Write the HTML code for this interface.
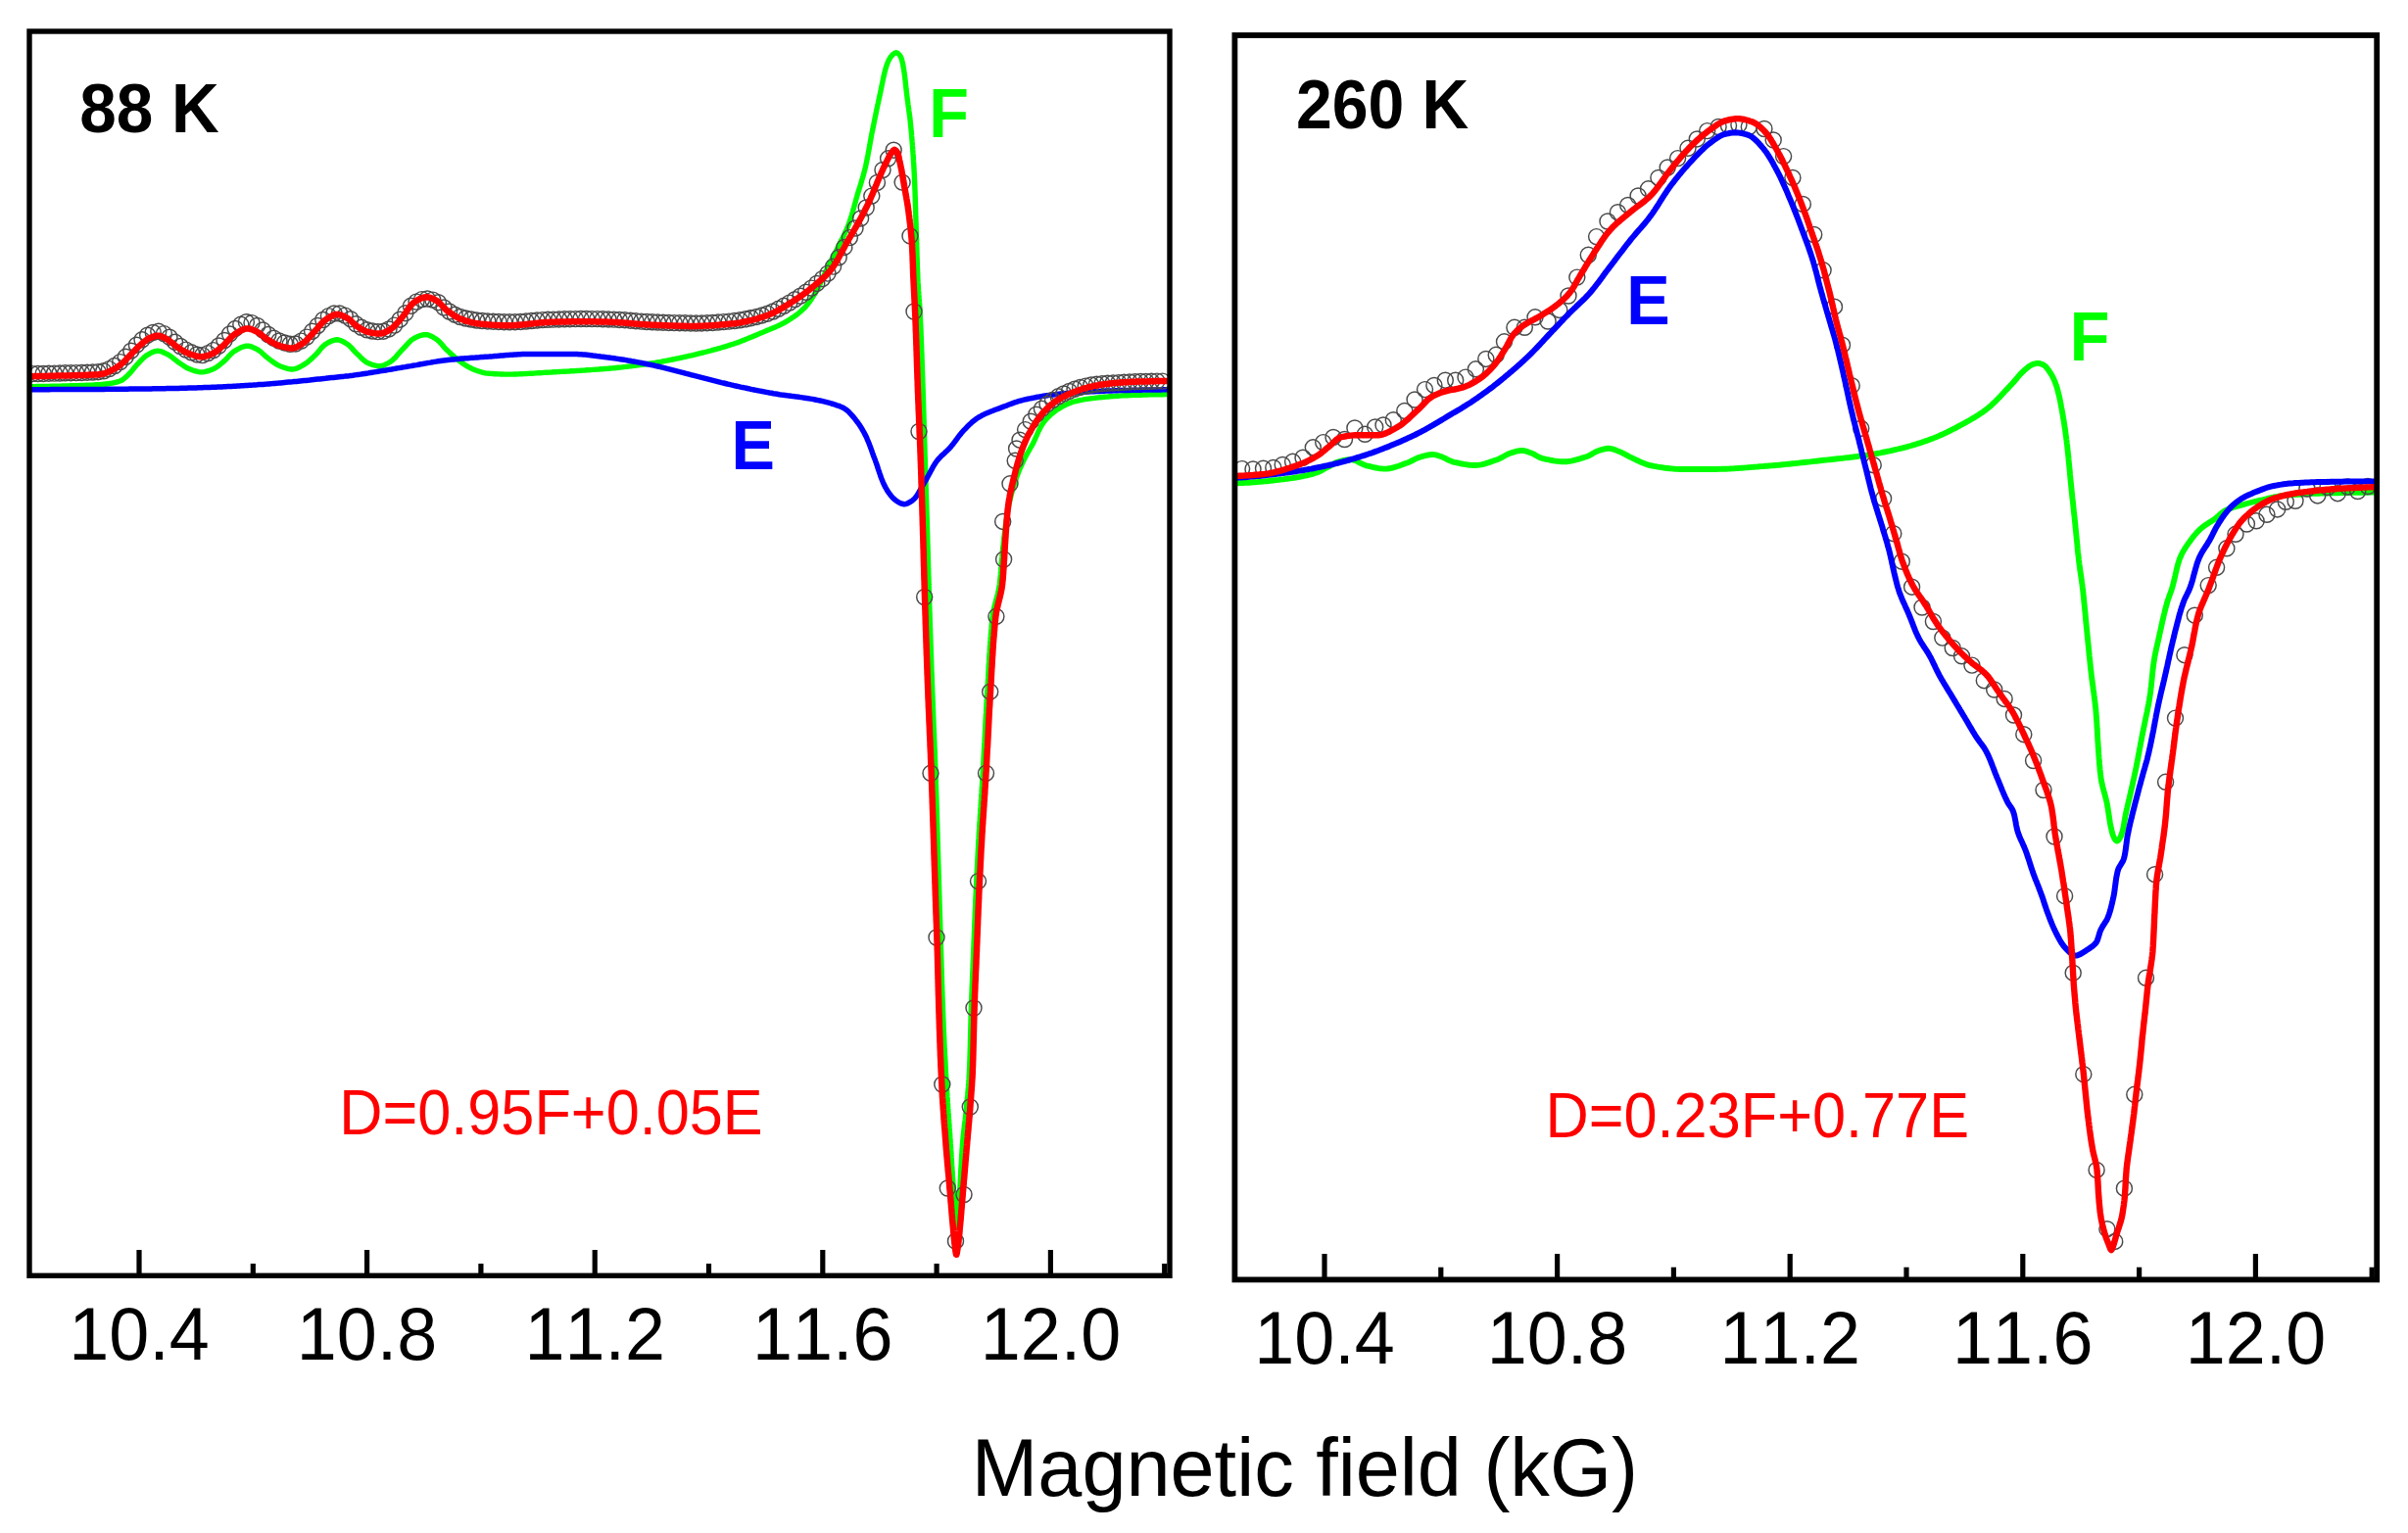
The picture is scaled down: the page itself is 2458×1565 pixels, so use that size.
<!DOCTYPE html>
<html lang="en"><head><meta charset="utf-8"><title>EPR spectra 88 K / 260 K</title>
<style>html,body{margin:0;padding:0;background:#fff;}svg{display:block;}</style></head>
<body>
<svg width="2458" height="1565" viewBox="0 0 2458 1565" font-family="'Liberation Sans', sans-serif" style="font-kerning:none">
<rect width="2458" height="1565" fill="#fff"/>
<clipPath id="cl"><rect x="30.0" y="32.0" width="1164.0" height="1270.3"/></clipPath>
<g clip-path="url(#cl)">
<path d="M28.0 394.6L30.0 394.6L32.0 394.6L34.0 394.6L36.0 394.6L38.0 394.5L40.0 394.5L42.0 394.5L44.0 394.5L46.0 394.4L48.0 394.4L50.0 394.4L52.0 394.3L54.0 394.3L56.0 394.2L58.0 394.2L60.0 394.1L62.0 394.1L64.0 394.0L66.0 394.0L68.0 393.9L70.0 393.9L72.0 393.8L74.0 393.8L76.0 393.7L78.0 393.7L80.0 393.6L82.0 393.5L84.0 393.5L86.0 393.4L88.1 393.3L90.1 393.2L92.1 393.1L94.1 393.1L96.1 392.9L98.1 392.8L100.1 392.7L102.0 392.6L104.0 392.4L106.0 392.2L108.0 392.0L110.0 391.8L112.0 391.5L114.0 391.2L115.9 390.8L117.9 390.4L119.9 389.8L121.8 389.2L123.6 388.5L125.3 387.6L126.9 386.4L128.4 385.0L129.9 383.6L131.4 382.1L132.8 380.7L134.1 379.2L135.4 377.7L136.6 376.1L137.9 374.6L139.2 373.0L140.5 371.6L141.9 370.1L143.3 368.6L144.7 367.1L146.2 365.7L147.7 364.3L149.2 363.1L150.9 362.1L152.6 361.1L154.4 360.2L156.3 359.3L158.3 358.6L160.2 358.3L162.1 358.3L164.0 358.6L165.9 359.3L167.8 360.2L169.7 361.1L171.5 362.0L173.2 363.0L174.8 364.2L176.4 365.4L178.0 366.7L179.6 367.9L181.2 369.1L182.8 370.3L184.5 371.4L186.2 372.6L187.9 373.7L189.6 374.8L191.3 375.8L193.1 376.6L194.9 377.3L196.8 378.0L198.7 378.6L200.7 379.2L202.7 379.6L204.7 379.9L206.6 379.9L208.6 379.6L210.6 379.2L212.6 378.6L214.5 378.0L216.4 377.2L218.1 376.5L219.9 375.6L221.5 374.5L223.2 373.3L224.8 372.0L226.4 370.7L227.9 369.4L229.4 368.1L230.9 366.6L232.3 365.1L233.6 363.6L235.0 362.1L236.5 360.7L237.9 359.4L239.5 358.3L241.2 357.3L243.0 356.3L244.8 355.4L246.7 354.5L248.7 353.8L250.6 353.3L252.5 353.1L254.4 353.3L256.3 353.8L258.2 354.6L260.1 355.5L262.0 356.4L263.7 357.4L265.3 358.5L266.8 359.7L268.3 361.1L269.8 362.5L271.3 363.9L272.9 365.2L274.5 366.4L276.1 367.6L277.7 368.8L279.4 370.0L281.0 371.2L282.7 372.2L284.5 373.1L286.3 373.9L288.1 374.6L290.1 375.3L292.0 375.9L294.0 376.5L296.0 376.8L297.9 377.0L299.8 376.9L301.8 376.4L303.7 375.7L305.6 374.8L307.4 373.8L309.2 372.9L310.8 371.9L312.5 370.8L314.1 369.6L315.6 368.3L317.2 366.9L318.7 365.6L320.1 364.2L321.6 362.8L323.0 361.4L324.4 359.8L325.7 358.2L327.0 356.6L328.3 355.0L329.7 353.6L331.2 352.3L332.7 351.2L334.3 350.2L336.2 349.2L338.1 348.3L340.0 347.6L341.9 347.0L343.9 346.8L345.7 347.0L347.7 347.6L349.6 348.4L351.4 349.4L353.2 350.5L354.8 351.5L356.3 352.7L357.8 354.1L359.2 355.5L360.5 357.1L361.9 358.6L363.3 360.1L364.8 361.5L366.3 362.9L367.7 364.3L369.2 365.8L370.7 367.2L372.2 368.5L373.8 369.7L375.5 370.6L377.3 371.3L379.1 372.0L381.1 372.7L383.1 373.2L385.1 373.6L387.1 373.8L389.0 373.7L390.9 373.2L392.8 372.4L394.7 371.5L396.5 370.5L398.2 369.5L399.8 368.4L401.3 367.1L402.7 365.8L404.1 364.3L405.4 362.7L406.8 361.2L408.1 359.6L409.5 358.1L410.9 356.7L412.3 355.2L413.7 353.7L415.1 352.1L416.5 350.6L417.9 349.1L419.4 347.7L420.9 346.5L422.5 345.5L424.2 344.6L426.0 343.8L427.9 343.0L429.9 342.3L431.9 341.8L433.8 341.6L435.7 341.7L437.7 342.2L439.6 343.0L441.5 343.9L443.3 345.0L445.0 346.0L446.5 347.1L448.0 348.3L449.4 349.8L450.7 351.3L452.1 352.9L453.4 354.4L454.8 356.0L456.2 357.4L457.7 358.7L459.1 360.1L460.6 361.4L462.1 362.8L463.6 364.1L465.2 365.3L466.7 366.6L468.3 367.8L469.9 369.1L471.5 370.3L473.1 371.5L474.8 372.6L476.5 373.6L478.2 374.6L480.0 375.5L481.8 376.4L483.7 377.2L485.5 378.0L487.4 378.6L489.3 379.2L491.2 379.8L493.2 380.3L495.2 380.8L497.1 381.1L499.1 381.2L501.1 381.4L503.1 381.5L505.1 381.7L507.1 381.8L509.1 381.9L511.1 382.0L513.1 382.0L515.1 382.1L517.1 382.1L519.1 382.1L521.1 382.1L523.1 382.1L525.1 382.0L527.1 382.0L529.1 381.9L531.1 381.8L533.1 381.7L535.1 381.6L537.1 381.5L539.1 381.4L541.1 381.3L543.1 381.2L545.1 381.1L547.1 380.9L549.1 380.8L551.1 380.7L553.1 380.6L555.1 380.4L557.1 380.3L559.1 380.2L561.1 380.1L563.1 380.0L565.1 379.8L567.1 379.7L569.1 379.6L571.1 379.5L573.1 379.4L575.1 379.3L577.1 379.2L579.1 379.1L581.1 379.0L583.1 378.8L585.1 378.7L587.1 378.6L589.1 378.5L591.1 378.4L593.1 378.2L595.1 378.1L597.1 378.0L599.1 377.8L601.1 377.7L603.1 377.6L605.1 377.4L607.1 377.3L609.1 377.1L611.1 377.0L613.1 376.8L615.1 376.7L617.1 376.5L619.1 376.4L621.1 376.2L623.1 376.0L625.1 375.9L627.0 375.7L629.0 375.5L631.0 375.3L633.0 375.1L635.0 374.9L637.0 374.6L639.0 374.4L641.0 374.2L643.0 373.9L645.0 373.7L646.9 373.4L648.9 373.2L650.9 372.9L652.9 372.6L654.9 372.3L656.9 372.1L658.9 371.8L660.8 371.5L662.8 371.2L664.8 370.9L666.8 370.6L668.7 370.3L670.7 369.9L672.7 369.6L674.7 369.3L676.6 368.9L678.6 368.5L680.6 368.2L682.5 367.8L684.5 367.4L686.5 367.0L688.4 366.6L690.4 366.2L692.4 365.8L694.3 365.4L696.3 365.0L698.2 364.5L700.2 364.1L702.1 363.7L704.1 363.2L706.0 362.8L708.0 362.3L709.9 361.9L711.9 361.4L713.8 360.9L715.8 360.4L717.7 360.0L719.7 359.5L721.6 359.0L723.5 358.5L725.5 358.0L727.4 357.4L729.4 356.9L731.3 356.4L733.2 355.8L735.2 355.3L737.1 354.7L739.0 354.1L740.9 353.6L742.8 353.0L744.7 352.4L746.6 351.8L748.5 351.2L750.4 350.5L752.3 349.9L754.2 349.2L756.1 348.5L757.9 347.8L759.8 347.1L761.7 346.3L763.5 345.6L765.4 344.8L767.2 344.1L769.1 343.3L770.9 342.5L772.8 341.7L774.6 340.9L776.5 340.1L778.3 339.4L780.1 338.6L782.0 337.8L783.8 337.0L785.7 336.3L787.6 335.5L789.4 334.7L791.3 333.9L793.1 333.1L795.0 332.3L796.8 331.4L798.5 330.5L800.3 329.6L802.0 328.6L803.7 327.6L805.4 326.6L807.1 325.5L808.8 324.3L810.5 323.2L812.2 322.0L813.8 320.8L815.4 319.5L816.9 318.2L818.4 316.9L819.9 315.5L821.3 314.2L822.6 312.8L823.9 311.3L825.1 309.7L826.3 308.1L827.5 306.5L828.6 304.8L829.7 303.1L830.8 301.4L831.9 299.6L832.9 297.9L833.9 296.2L834.9 294.4L835.8 292.7L836.7 290.9L837.5 289.1L838.4 287.3L839.2 285.4L840.0 283.6L840.8 281.8L841.7 279.9L842.5 278.1L843.3 276.3L844.2 274.5L845.1 272.7L846.0 270.9L846.9 269.1L847.8 267.3L848.7 265.5L849.6 263.7L850.5 262.0L851.4 260.2L852.4 258.4L853.3 256.6L854.2 254.8L855.1 253.0L855.9 251.2L856.8 249.4L857.7 247.6L858.6 245.8L859.5 244.0L860.4 242.2L861.3 240.4L862.1 238.6L863.0 236.8L863.8 235.0L864.6 233.2L865.4 231.3L866.1 229.5L866.8 227.6L867.4 225.7L868.1 223.8L868.7 221.9L869.3 220.0L869.8 218.1L870.4 216.2L870.9 214.2L871.5 212.3L872.0 210.4L872.5 208.4L873.1 206.5L873.6 204.6L874.1 202.6L874.7 200.7L875.2 198.8L875.8 196.9L876.4 194.9L877.0 193.0L877.6 191.1L878.2 189.2L878.8 187.3L879.4 185.4L879.9 183.4L880.5 181.5L881.1 179.6L881.6 177.7L882.1 175.7L882.6 173.8L883.1 171.9L883.6 169.9L884.0 168.0L884.4 166.0L884.8 164.1L885.2 162.1L885.6 160.1L886.0 158.2L886.3 156.2L886.7 154.2L887.1 152.3L887.4 150.3L887.8 148.3L888.1 146.3L888.5 144.4L888.8 142.4L889.2 140.4L889.5 138.5L889.9 136.5L890.3 134.5L890.7 132.6L891.1 130.6L891.5 128.6L891.9 126.7L892.3 124.7L892.7 122.7L893.1 120.8L893.5 118.8L893.9 116.9L894.3 114.9L894.7 112.9L895.1 111.0L895.5 109.0L895.9 107.1L896.4 105.1L896.8 103.1L897.2 101.2L897.6 99.2L898.1 97.3L898.5 95.3L898.9 93.4L899.3 91.4L899.7 89.4L900.1 87.4L900.5 85.5L900.9 83.5L901.3 81.5L901.7 79.5L902.2 77.5L902.6 75.6L903.1 73.6L903.6 71.7L904.1 69.8L904.7 67.9L905.3 66.1L906.0 64.2L906.8 62.3L907.8 60.4L908.8 58.7L910.0 57.1L911.3 55.7L913.1 54.4L914.8 53.8L916.7 54.6L918.3 56.1L919.2 57.6L920.0 59.4L920.6 61.3L921.1 63.4L921.6 65.4L921.9 67.4L922.3 69.3L922.6 71.3L922.9 73.3L923.2 75.2L923.5 77.2L923.7 79.2L923.9 81.2L924.2 83.2L924.4 85.2L924.6 87.2L924.8 89.2L925.0 91.2L925.3 93.2L925.5 95.2L925.7 97.2L926.0 99.2L926.2 101.2L926.5 103.1L926.8 105.1L927.0 107.1L927.3 109.1L927.6 111.1L927.8 113.1L928.1 115.1L928.4 117.0L928.6 119.0L928.9 121.0L929.1 123.0L929.3 125.0L929.5 127.0L929.7 129.0L929.9 131.0L930.1 133.0L930.3 134.9L930.5 136.9L930.6 138.9L930.8 140.9L931.0 142.9L931.1 144.9L931.3 146.9L931.4 148.9L931.6 150.9L931.7 152.9L931.9 154.9L932.0 156.9L932.2 158.9L932.3 160.9L932.4 162.9L932.5 164.9L932.7 166.9L932.8 168.9L932.9 170.9L933.0 172.9L933.1 174.9L933.2 176.9L933.3 178.9L933.4 180.9L933.5 182.9L933.6 184.9L933.7 186.9L933.8 188.9L933.8 190.9L933.9 192.9L934.0 194.9L934.1 196.9L934.1 198.9L934.2 200.9L934.3 202.9L934.3 204.9L934.4 206.9L934.4 208.9L934.5 210.9L934.6 212.9L934.6 214.9L934.7 216.9L934.7 218.9L934.8 220.9L934.9 222.9L934.9 224.9L935.0 226.9L935.1 228.9L935.1 230.9L935.2 232.9L935.2 234.9L935.3 236.9L935.4 238.9L935.4 240.9L935.5 242.9L935.6 244.9L935.6 246.9L935.7 248.9L935.7 250.9L935.8 252.9L935.9 254.9L935.9 256.9L936.0 258.9L936.0 260.9L936.1 262.9L936.2 264.9L936.2 266.9L936.3 268.9L936.4 270.9L936.4 272.9L936.5 274.9L936.6 276.9L936.7 278.9L936.8 280.9L936.8 282.9L936.9 284.9L937.0 286.9L937.1 288.9L937.3 290.9L937.4 292.9L937.5 294.9L937.6 296.9L937.8 298.9L937.9 300.9L938.1 302.9L938.2 304.9L938.4 306.9L938.5 308.9L938.7 310.9L938.8 312.9L938.9 314.9L939.0 316.9L939.1 318.9L939.2 320.9L939.3 322.9L939.4 324.9L939.5 326.9L939.6 328.9L939.7 330.9L939.8 332.9L939.9 334.9L940.0 336.9L940.1 338.9L940.1 340.9L940.2 342.9L940.3 344.9L940.4 346.9L940.4 348.9L940.5 350.9L940.6 352.9L940.7 354.9L940.7 356.9L940.8 358.9L940.9 360.9L941.0 362.9L941.0 364.9L941.1 366.9L941.2 368.9L941.2 370.9L941.3 372.9L941.4 374.9L941.4 376.9L941.5 378.9L941.6 380.9L941.6 382.9L941.7 384.9L941.8 386.9L941.8 388.9L941.9 390.9L942.0 392.9L942.0 394.9L942.1 396.9L942.2 398.9L942.2 400.9L942.3 402.9L942.4 404.9L942.4 406.9L942.5 408.9L942.6 410.9L942.6 412.9L942.7 414.9L942.7 416.9L942.8 418.9L942.9 420.9L942.9 422.9L943.0 424.9L943.0 426.9L943.1 428.9L943.2 430.9L943.2 433.0L943.3 435.0L943.3 437.0L943.4 439.0L943.4 441.0L943.5 443.0L943.6 445.0L943.6 447.0L943.7 449.0L943.7 451.0L943.8 453.0L943.9 455.0L943.9 457.0L944.0 459.0L944.0 461.0L944.1 463.0L944.1 465.0L944.2 467.0L944.3 469.0L944.3 471.0L944.4 473.0L944.5 475.0L944.5 477.0L944.6 479.0L944.6 481.0L944.7 483.0L944.8 485.0L944.8 487.0L944.9 489.0L945.0 491.0L945.0 493.0L945.1 495.0L945.1 497.0L945.2 499.0L945.3 501.0L945.3 503.0L945.4 505.0L945.5 507.0L945.5 509.0L945.6 511.0L945.7 513.0L945.7 515.0L945.8 517.0L945.8 519.0L945.9 521.0L946.0 523.0L946.0 525.0L946.1 527.0L946.2 529.0L946.2 531.0L946.3 533.0L946.3 535.0L946.4 537.0L946.5 539.0L946.5 541.0L946.6 543.0L946.7 545.0L946.7 547.0L946.8 549.0L946.8 551.0L946.9 553.0L946.9 555.0L947.0 557.0L947.1 559.0L947.1 561.0L947.2 563.0L947.2 565.0L947.3 567.0L947.3 569.0L947.4 571.0L947.5 573.0L947.5 575.0L947.6 577.0L947.6 579.0L947.7 581.0L947.7 583.0L947.8 585.0L947.8 587.0L947.9 589.0L948.0 591.0L948.0 593.0L948.1 595.0L948.1 597.0L948.2 599.1L948.2 601.1L948.3 603.1L948.4 605.1L948.4 607.1L948.5 609.1L948.5 611.1L948.6 613.1L948.7 615.1L948.7 617.1L948.8 619.1L948.9 621.1L948.9 623.1L949.0 625.1L949.1 627.1L949.1 629.1L949.2 631.1L949.2 633.1L949.3 635.1L949.4 637.1L949.4 639.1L949.5 641.1L949.6 643.1L949.6 645.1L949.7 647.1L949.8 649.1L949.8 651.1L949.9 653.1L950.0 655.1L950.0 657.1L950.1 659.1L950.2 661.1L950.2 663.1L950.3 665.1L950.4 667.1L950.5 669.1L950.5 671.1L950.6 673.1L950.7 675.1L950.7 677.1L950.8 679.1L950.9 681.1L950.9 683.1L951.0 685.1L951.1 687.1L951.2 689.1L951.2 691.1L951.3 693.1L951.4 695.1L951.4 697.1L951.5 699.1L951.6 701.1L951.7 703.1L951.7 705.1L951.8 707.1L951.9 709.1L952.0 711.1L952.0 713.1L952.1 715.1L952.2 717.1L952.3 719.1L952.3 721.1L952.4 723.1L952.5 725.1L952.6 727.1L952.7 729.1L952.7 731.1L952.8 733.1L952.9 735.1L953.0 737.1L953.1 739.1L953.1 741.1L953.2 743.1L953.3 745.1L953.4 747.1L953.5 749.1L953.6 751.1L953.6 753.1L953.7 755.1L953.8 757.1L953.9 759.1L953.9 761.1L954.0 763.1L954.1 765.1L954.2 767.1L954.3 769.1L954.3 771.1L954.4 773.1L954.5 775.1L954.6 777.1L954.6 779.1L954.7 781.1L954.8 783.1L954.9 785.1L954.9 787.1L955.0 789.1L955.1 791.1L955.1 793.1L955.2 795.1L955.3 797.1L955.3 799.1L955.4 801.1L955.5 803.1L955.5 805.1L955.6 807.1L955.7 809.1L955.7 811.1L955.8 813.1L955.9 815.1L955.9 817.1L956.0 819.1L956.0 821.1L956.1 823.1L956.2 825.1L956.2 827.1L956.3 829.1L956.4 831.1L956.4 833.1L956.5 835.1L956.5 837.2L956.6 839.2L956.7 841.2L956.7 843.2L956.8 845.2L956.8 847.2L956.9 849.2L957.0 851.2L957.0 853.2L957.1 855.2L957.1 857.2L957.2 859.2L957.3 861.2L957.3 863.2L957.4 865.2L957.4 867.2L957.5 869.2L957.6 871.2L957.6 873.2L957.7 875.2L957.7 877.2L957.8 879.2L957.8 881.2L957.9 883.2L958.0 885.2L958.0 887.2L958.1 889.2L958.1 891.2L958.2 893.2L958.3 895.2L958.3 897.2L958.4 899.2L958.4 901.2L958.5 903.2L958.6 905.2L958.6 907.2L958.7 909.2L958.7 911.2L958.8 913.2L958.9 915.2L958.9 917.2L959.0 919.2L959.0 921.2L959.1 923.2L959.2 925.2L959.2 927.2L959.3 929.2L959.4 931.2L959.4 933.2L959.5 935.2L959.5 937.2L959.6 939.2L959.7 941.2L959.7 943.2L959.8 945.2L959.8 947.2L959.9 949.2L960.0 951.2L960.0 953.2L960.1 955.2L960.1 957.2L960.2 959.2L960.3 961.2L960.3 963.2L960.4 965.2L960.4 967.2L960.5 969.2L960.6 971.2L960.6 973.2L960.7 975.2L960.7 977.2L960.8 979.2L960.9 981.2L960.9 983.2L961.0 985.2L961.0 987.2L961.1 989.2L961.2 991.2L961.2 993.2L961.3 995.2L961.4 997.2L961.4 999.2L961.5 1001.3L961.5 1003.3L961.6 1005.3L961.7 1007.3L961.7 1009.3L961.8 1011.3L961.9 1013.3L961.9 1015.3L962.0 1017.3L962.1 1019.3L962.1 1021.3L962.2 1023.3L962.3 1025.3L962.4 1027.3L962.4 1029.3L962.5 1031.3L962.6 1033.3L962.7 1035.3L962.7 1037.3L962.8 1039.3L962.9 1041.3L963.0 1043.3L963.1 1045.3L963.1 1047.3L963.2 1049.3L963.3 1051.3L963.4 1053.3L963.5 1055.3L963.6 1057.3L963.7 1059.3L963.8 1061.3L963.8 1063.3L963.9 1065.3L964.0 1067.3L964.1 1069.3L964.2 1071.3L964.3 1073.3L964.4 1075.3L964.5 1077.3L964.7 1079.3L964.8 1081.3L964.9 1083.3L965.0 1085.3L965.1 1087.3L965.2 1089.3L965.3 1091.3L965.4 1093.3L965.5 1095.3L965.6 1097.3L965.7 1099.3L965.9 1101.3L966.0 1103.3L966.1 1105.3L966.2 1107.3L966.3 1109.2L966.4 1111.2L966.6 1113.2L966.7 1115.2L966.8 1117.2L966.9 1119.2L967.1 1121.2L967.2 1123.2L967.3 1125.2L967.5 1127.2L967.6 1129.2L967.7 1131.2L967.9 1133.2L968.0 1135.2L968.2 1137.2L968.3 1139.2L968.4 1141.2L968.6 1143.2L968.7 1145.2L968.9 1147.2L969.0 1149.2L969.1 1151.2L969.3 1153.2L969.4 1155.2L969.6 1157.2L969.7 1159.2L969.8 1161.2L970.0 1163.2L970.1 1165.2L970.2 1167.2L970.4 1169.2L970.5 1171.2L970.6 1173.2L970.8 1175.2L970.9 1177.2L971.0 1179.2L971.1 1181.2L971.3 1183.2L971.4 1185.2L971.5 1187.2L971.6 1189.2L971.8 1191.2L971.9 1193.2L972.0 1195.2L972.1 1197.1L972.3 1199.1L972.4 1201.1L972.5 1203.1L972.7 1205.1L972.8 1207.1L972.9 1209.1L973.1 1211.1L973.2 1213.1L973.3 1215.1L973.5 1217.1L973.6 1219.1L973.7 1221.1L973.9 1223.1L974.0 1225.1L974.1 1227.1L974.3 1229.1L974.4 1231.1L974.5 1233.1L974.7 1235.1L974.9 1237.1L975.0 1239.1L975.2 1241.1L975.4 1243.1L975.6 1245.1L975.9 1247.5L976.2 1250.0L976.5 1251.7L976.9 1251.7L977.2 1250.0L977.5 1247.5L977.8 1245.1L978.0 1243.1L978.2 1241.1L978.3 1239.1L978.5 1237.1L978.6 1235.1L978.7 1233.1L978.8 1231.1L979.0 1229.1L979.1 1227.1L979.2 1225.1L979.3 1223.1L979.4 1221.1L979.5 1219.1L979.6 1217.1L979.7 1215.1L979.9 1213.1L980.0 1211.1L980.1 1209.1L980.2 1207.1L980.3 1205.1L980.4 1203.1L980.5 1201.1L980.6 1199.1L980.7 1197.1L980.8 1195.1L980.9 1193.1L981.0 1191.1L981.2 1189.1L981.3 1187.1L981.4 1185.1L981.5 1183.1L981.6 1181.1L981.7 1179.1L981.9 1177.1L982.0 1175.1L982.1 1173.1L982.3 1171.1L982.4 1169.1L982.6 1167.1L982.7 1165.2L982.9 1163.2L983.1 1161.2L983.3 1159.2L983.5 1157.2L983.8 1155.2L984.0 1153.2L984.2 1151.2L984.4 1149.2L984.7 1147.2L984.9 1145.3L985.2 1143.3L985.4 1141.3L985.6 1139.3L985.8 1137.3L986.1 1135.3L986.3 1133.3L986.5 1131.3L986.6 1129.3L986.8 1127.3L987.0 1125.3L987.2 1123.3L987.4 1121.4L987.6 1119.4L987.8 1117.4L987.9 1115.4L988.1 1113.4L988.3 1111.4L988.5 1109.4L988.6 1107.4L988.8 1105.4L988.9 1103.4L989.1 1101.4L989.2 1099.4L989.3 1097.4L989.4 1095.4L989.5 1093.4L989.6 1091.4L989.7 1089.4L989.8 1087.4L989.8 1085.4L989.9 1083.4L990.0 1081.4L990.0 1079.4L990.1 1077.4L990.2 1075.4L990.2 1073.4L990.3 1071.4L990.3 1069.4L990.4 1067.4L990.4 1065.4L990.5 1063.4L990.5 1061.4L990.6 1059.4L990.6 1057.4L990.7 1055.4L990.7 1053.4L990.8 1051.4L990.8 1049.4L990.9 1047.4L990.9 1045.4L991.0 1043.4L991.0 1041.4L991.1 1039.4L991.1 1037.4L991.2 1035.4L991.3 1033.4L991.3 1031.4L991.4 1029.4L991.5 1027.4L991.5 1025.4L991.6 1023.4L991.7 1021.4L991.8 1019.4L991.8 1017.4L991.9 1015.4L992.0 1013.4L992.1 1011.4L992.1 1009.4L992.2 1007.4L992.3 1005.4L992.4 1003.4L992.5 1001.4L992.6 999.4L992.6 997.4L992.7 995.4L992.8 993.4L992.9 991.4L993.0 989.4L993.1 987.4L993.1 985.4L993.2 983.4L993.3 981.4L993.4 979.4L993.5 977.4L993.6 975.4L993.6 973.4L993.7 971.4L993.8 969.4L993.9 967.4L994.0 965.3L994.0 963.3L994.1 961.3L994.2 959.3L994.3 957.3L994.4 955.3L994.4 953.3L994.5 951.3L994.6 949.3L994.7 947.3L994.8 945.3L994.8 943.3L994.9 941.3L995.0 939.3L995.1 937.3L995.2 935.3L995.2 933.3L995.3 931.3L995.4 929.3L995.5 927.3L995.6 925.3L995.7 923.3L995.7 921.3L995.8 919.3L995.9 917.3L996.0 915.3L996.1 913.3L996.2 911.3L996.3 909.3L996.4 907.3L996.5 905.3L996.6 903.3L996.7 901.3L996.8 899.3L996.9 897.3L997.0 895.3L997.1 893.3L997.2 891.3L997.3 889.3L997.4 887.3L997.5 885.3L997.6 883.3L997.7 881.3L997.8 879.3L997.9 877.3L998.0 875.3L998.1 873.3L998.2 871.3L998.3 869.3L998.4 867.3L998.5 865.3L998.6 863.3L998.7 861.4L998.8 859.4L998.9 857.4L999.1 855.4L999.2 853.4L999.3 851.4L999.4 849.4L999.5 847.4L999.7 845.4L999.8 843.4L999.9 841.4L1000.0 839.4L1000.2 837.4L1000.3 835.4L1000.4 833.4L1000.5 831.4L1000.7 829.4L1000.8 827.4L1000.9 825.4L1001.1 823.4L1001.2 821.4L1001.3 819.4L1001.4 817.4L1001.6 815.4L1001.7 813.4L1001.8 811.4L1002.0 809.4L1002.1 807.4L1002.2 805.4L1002.3 803.4L1002.5 801.4L1002.6 799.4L1002.7 797.4L1002.8 795.4L1003.0 793.4L1003.1 791.4L1003.2 789.4L1003.3 787.4L1003.4 785.4L1003.5 783.4L1003.7 781.4L1003.8 779.4L1003.9 777.4L1004.0 775.4L1004.1 773.4L1004.2 771.4L1004.3 769.4L1004.4 767.4L1004.5 765.4L1004.6 763.4L1004.7 761.4L1004.8 759.4L1005.0 757.4L1005.1 755.4L1005.2 753.4L1005.3 751.4L1005.4 749.4L1005.5 747.4L1005.6 745.4L1005.7 743.4L1005.8 741.4L1005.9 739.4L1006.0 737.4L1006.1 735.4L1006.2 733.4L1006.3 731.4L1006.4 729.4L1006.6 727.4L1006.7 725.4L1006.8 723.4L1006.9 721.4L1007.0 719.4L1007.1 717.4L1007.2 715.4L1007.4 713.4L1007.5 711.5L1007.6 709.5L1007.7 707.5L1007.8 705.5L1008.0 703.5L1008.1 701.5L1008.2 699.5L1008.3 697.5L1008.4 695.5L1008.5 693.4L1008.7 691.4L1008.8 689.4L1008.9 687.4L1009.0 685.4L1009.1 683.4L1009.2 681.4L1009.3 679.4L1009.4 677.4L1009.6 675.4L1009.7 673.4L1009.8 671.4L1009.9 669.4L1010.0 667.4L1010.2 665.4L1010.3 663.4L1010.4 661.4L1010.5 659.4L1010.7 657.4L1010.8 655.4L1011.0 653.4L1011.1 651.4L1011.3 649.4L1011.4 647.4L1011.6 645.4L1011.8 643.4L1012.0 641.4L1012.1 639.5L1012.3 637.5L1012.5 635.5L1012.7 633.5L1013.0 631.5L1013.2 629.6L1013.4 627.6L1013.7 625.6L1014.1 623.7L1014.5 621.7L1014.9 619.7L1015.4 617.8L1015.9 615.8L1016.4 613.9L1016.9 612.0L1017.5 610.0L1018.0 608.1L1018.5 606.1L1018.9 604.2L1019.4 602.2L1019.7 600.2L1020.1 598.3L1020.4 596.3L1020.6 594.3L1020.8 592.3L1021.0 590.3L1021.2 588.4L1021.4 586.4L1021.5 584.4L1021.7 582.4L1021.8 580.4L1022.0 578.4L1022.1 576.4L1022.3 574.4L1022.5 572.4L1022.7 570.4L1022.9 568.4L1023.0 566.4L1023.2 564.4L1023.4 562.4L1023.6 560.4L1023.9 558.4L1024.1 556.4L1024.3 554.4L1024.5 552.4L1024.7 550.5L1025.0 548.5L1025.2 546.5L1025.5 544.5L1025.7 542.5L1026.0 540.5L1026.2 538.5L1026.5 536.5L1026.8 534.5L1027.0 532.6L1027.3 530.6L1027.6 528.6L1027.9 526.6L1028.2 524.6L1028.6 522.7L1028.9 520.7L1029.3 518.7L1029.6 516.8L1030.0 514.8L1030.4 512.9L1030.9 510.9L1031.3 509.0L1031.8 507.0L1032.3 505.1L1032.8 503.1L1033.4 501.2L1033.9 499.2L1034.5 497.3L1035.1 495.4L1035.7 493.5L1036.3 491.6L1036.9 489.7L1037.5 487.8L1038.2 485.9L1038.9 484.0L1039.6 482.2L1040.3 480.3L1041.1 478.5L1041.9 476.6L1042.7 474.8L1043.6 473.0L1044.4 471.2L1045.3 469.4L1046.2 467.6L1047.1 465.8L1048.0 464.0L1049.0 462.3L1050.0 460.5L1051.0 458.8L1052.0 457.0L1053.0 455.3L1054.0 453.6L1054.9 451.8L1055.8 449.9L1056.6 448.1L1057.4 446.2L1058.3 444.3L1059.1 442.5L1059.9 440.6L1060.8 438.8L1061.7 437.0L1062.6 435.3L1063.6 433.6L1064.7 432.0L1065.8 430.5L1067.1 429.0L1068.4 427.5L1069.8 426.0L1071.3 424.5L1072.8 423.1L1074.4 421.8L1076.0 420.5L1077.6 419.3L1079.2 418.1L1080.9 417.1L1082.5 416.1L1084.3 415.1L1086.0 414.2L1087.9 413.3L1089.7 412.4L1091.6 411.6L1093.5 410.9L1095.4 410.3L1097.3 409.7L1099.2 409.3L1101.2 408.8L1103.1 408.4L1105.1 408.1L1107.1 407.7L1109.1 407.4L1111.1 407.1L1113.1 406.8L1115.0 406.6L1117.0 406.4L1119.0 406.1L1121.0 405.9L1123.0 405.7L1125.0 405.5L1127.0 405.3L1129.0 405.1L1131.0 405.0L1133.0 404.8L1135.0 404.6L1137.0 404.5L1139.0 404.3L1141.0 404.2L1143.0 404.1L1145.0 403.9L1147.0 403.8L1149.0 403.7L1151.0 403.7L1153.0 403.6L1155.0 403.5L1157.0 403.4L1159.0 403.4L1161.0 403.3L1163.0 403.2L1165.0 403.2L1167.0 403.1L1169.0 403.1L1171.0 403.0L1173.0 402.9L1175.0 402.9L1177.0 402.8L1179.0 402.8L1181.0 402.8L1183.0 402.7L1185.0 402.7L1187.0 402.7L1189.0 402.6L1191.0 402.6L1193.0 402.6L1195.0 402.6L1197.0 402.6" fill="none" stroke="#00ff00" stroke-width="5.4" stroke-linejoin="round" stroke-linecap="butt"/>
<path d="M28.0 397.7L30.0 397.7L32.0 397.7L34.0 397.7L36.0 397.7L38.0 397.7L40.0 397.7L42.0 397.7L44.0 397.7L46.0 397.7L48.0 397.7L50.1 397.7L52.1 397.6L54.1 397.6L56.1 397.6L58.1 397.6L60.1 397.6L62.1 397.6L64.1 397.6L66.1 397.6L68.1 397.6L70.1 397.6L72.1 397.6L74.1 397.5L76.1 397.5L78.1 397.5L80.1 397.5L82.1 397.5L84.1 397.5L86.1 397.5L88.1 397.5L90.1 397.5L92.1 397.4L94.1 397.4L96.2 397.4L98.2 397.4L100.2 397.4L102.2 397.4L104.2 397.4L106.2 397.4L108.2 397.3L110.2 397.3L112.2 397.3L114.2 397.3L116.2 397.3L118.2 397.3L120.2 397.2L122.2 397.2L124.2 397.2L126.2 397.2L128.2 397.2L130.2 397.2L132.2 397.1L134.2 397.1L136.2 397.1L138.2 397.1L140.3 397.0L142.3 397.0L144.3 397.0L146.3 397.0L148.3 396.9L150.3 396.9L152.3 396.9L154.3 396.9L156.3 396.8L158.3 396.8L160.3 396.8L162.3 396.7L164.3 396.7L166.3 396.7L168.3 396.7L170.3 396.6L172.3 396.6L174.3 396.5L176.3 396.5L178.3 396.5L180.3 396.4L182.3 396.4L184.3 396.3L186.4 396.3L188.4 396.2L190.4 396.2L192.4 396.1L194.4 396.1L196.4 396.0L198.4 395.9L200.4 395.9L202.4 395.8L204.4 395.7L206.4 395.7L208.4 395.6L210.4 395.5L212.4 395.5L214.4 395.4L216.4 395.3L218.4 395.3L220.4 395.2L222.4 395.1L224.4 395.0L226.4 394.9L228.4 394.8L230.4 394.7L232.4 394.6L234.4 394.5L236.4 394.4L238.4 394.3L240.4 394.2L242.4 394.1L244.4 394.0L246.4 393.8L248.4 393.7L250.4 393.6L252.4 393.5L254.4 393.3L256.4 393.2L258.4 393.1L260.4 392.9L262.4 392.8L264.4 392.6L266.4 392.5L268.4 392.4L270.4 392.2L272.4 392.1L274.4 391.9L276.4 391.7L278.4 391.6L280.4 391.4L282.4 391.2L284.4 391.1L286.4 390.9L288.4 390.7L290.4 390.5L292.4 390.3L294.4 390.1L296.4 389.9L298.4 389.8L300.4 389.6L302.4 389.4L304.4 389.2L306.4 389.0L308.4 388.8L310.4 388.6L312.4 388.4L314.3 388.2L316.3 388.0L318.3 387.7L320.3 387.5L322.3 387.3L324.3 387.1L326.3 386.9L328.3 386.7L330.3 386.5L332.3 386.3L334.3 386.0L336.3 385.8L338.3 385.6L340.3 385.4L342.3 385.2L344.3 385.0L346.2 384.8L348.2 384.6L350.2 384.4L352.2 384.1L354.2 383.9L356.2 383.7L358.2 383.4L360.2 383.2L362.2 382.9L364.2 382.6L366.1 382.4L368.1 382.1L370.1 381.8L372.1 381.5L374.1 381.2L376.0 380.9L378.0 380.5L380.0 380.2L382.0 379.9L384.0 379.6L385.9 379.3L387.9 378.9L389.9 378.6L391.9 378.3L393.9 378.0L395.8 377.6L397.8 377.3L399.8 377.0L401.8 376.6L403.7 376.3L405.7 375.9L407.7 375.6L409.7 375.3L411.6 374.9L413.6 374.6L415.6 374.2L417.6 373.9L419.5 373.6L421.5 373.2L423.5 372.9L425.5 372.6L427.4 372.2L429.4 371.8L431.4 371.5L433.4 371.1L435.3 370.8L437.3 370.4L439.3 370.1L441.3 369.7L443.3 369.4L445.2 369.1L447.2 368.8L449.2 368.5L451.2 368.2L453.2 367.9L455.1 367.7L457.1 367.5L459.1 367.3L461.1 367.1L463.1 366.9L465.1 366.7L467.1 366.5L469.1 366.3L471.1 366.1L473.1 366.0L475.1 365.8L477.1 365.7L479.1 365.5L481.1 365.3L483.1 365.2L485.1 365.1L487.1 364.9L489.1 364.8L491.1 364.6L493.1 364.5L495.1 364.3L497.1 364.2L499.1 364.1L501.1 363.9L503.1 363.8L505.1 363.6L507.1 363.5L509.1 363.3L511.1 363.1L513.1 363.0L515.1 362.8L517.1 362.6L519.1 362.5L521.1 362.3L523.1 362.2L525.1 362.0L527.1 361.9L529.1 361.8L531.1 361.7L533.1 361.6L535.1 361.5L537.1 361.5L539.1 361.4L541.1 361.4L543.1 361.4L545.1 361.4L547.1 361.4L549.1 361.4L551.1 361.4L553.1 361.4L555.1 361.4L557.1 361.4L559.2 361.4L561.2 361.4L563.2 361.4L565.2 361.4L567.2 361.4L569.2 361.4L571.2 361.4L573.2 361.4L575.2 361.4L577.2 361.4L579.2 361.4L581.2 361.4L583.2 361.4L585.2 361.4L587.2 361.5L589.2 361.5L591.2 361.7L593.2 361.8L595.2 361.9L597.2 362.1L599.2 362.3L601.2 362.5L603.2 362.7L605.2 363.0L607.2 363.2L609.2 363.5L611.2 363.7L613.2 364.0L615.2 364.2L617.1 364.5L619.1 364.8L621.1 365.0L623.1 365.3L625.1 365.6L627.1 365.8L629.1 366.1L631.0 366.4L633.0 366.7L635.0 367.0L637.0 367.3L639.0 367.6L640.9 368.0L642.9 368.3L644.9 368.7L646.9 369.0L648.8 369.4L650.8 369.8L652.8 370.1L654.8 370.5L656.7 370.9L658.7 371.3L660.7 371.7L662.6 372.1L664.6 372.5L666.5 372.9L668.5 373.3L670.5 373.8L672.4 374.2L674.4 374.7L676.3 375.1L678.2 375.6L680.2 376.1L682.1 376.6L684.1 377.1L686.0 377.6L688.0 378.1L689.9 378.6L691.8 379.1L693.8 379.6L695.7 380.1L697.7 380.6L699.6 381.2L701.5 381.7L703.5 382.2L705.4 382.7L707.4 383.1L709.3 383.6L711.3 384.1L713.2 384.6L715.1 385.1L717.1 385.6L719.0 386.1L721.0 386.6L722.9 387.1L724.9 387.6L726.8 388.1L728.7 388.6L730.7 389.1L732.6 389.6L734.6 390.1L736.5 390.6L738.5 391.0L740.4 391.5L742.4 392.0L744.3 392.4L746.3 392.9L748.2 393.3L750.2 393.8L752.1 394.2L754.1 394.6L756.0 395.1L758.0 395.5L760.0 395.9L761.9 396.3L763.9 396.7L765.9 397.2L767.8 397.6L769.8 398.0L771.7 398.4L773.7 398.8L775.7 399.1L777.7 399.5L779.6 399.9L781.6 400.3L783.6 400.6L785.5 401.0L787.5 401.3L789.5 401.7L791.5 402.0L793.4 402.3L795.4 402.7L797.4 403.0L799.4 403.2L801.4 403.5L803.4 403.8L805.3 404.0L807.3 404.3L809.3 404.6L811.3 404.8L813.3 405.1L815.3 405.3L817.3 405.6L819.3 405.9L821.3 406.2L823.2 406.5L825.2 406.8L827.2 407.1L829.2 407.4L831.1 407.8L833.1 408.2L835.1 408.6L837.0 409.0L839.0 409.4L840.9 409.9L842.9 410.4L844.8 410.9L846.8 411.4L848.7 412.0L850.6 412.5L852.5 413.1L854.4 413.8L856.4 414.4L858.3 415.2L860.1 416.0L861.8 416.9L863.4 418.0L865.0 419.2L866.5 420.6L867.9 422.1L869.3 423.6L870.6 425.1L871.9 426.6L873.1 428.2L874.3 429.8L875.6 431.4L876.7 433.0L877.9 434.7L879.0 436.4L880.0 438.1L881.0 439.9L882.0 441.6L882.9 443.4L883.8 445.1L884.7 446.9L885.4 448.8L886.2 450.6L887.0 452.5L887.7 454.4L888.4 456.2L889.1 458.1L889.8 460.0L890.4 461.9L891.1 463.8L891.8 465.7L892.5 467.6L893.3 469.5L893.9 471.4L894.6 473.3L895.3 475.2L895.9 477.1L896.5 479.1L897.2 481.0L897.8 482.9L898.5 484.9L899.1 486.8L899.8 488.6L900.6 490.5L901.3 492.3L902.1 494.1L903.0 495.9L903.9 497.6L904.9 499.3L905.9 501.1L907.1 502.8L908.3 504.5L909.6 506.2L910.9 507.7L912.3 509.1L913.8 510.4L915.3 511.5L917.1 512.6L918.9 513.6L920.9 514.3L922.8 514.7L924.7 514.5L926.6 513.8L928.5 512.8L930.3 511.7L931.8 510.6L933.1 509.4L934.4 508.0L935.6 506.4L936.7 504.8L937.8 503.0L938.8 501.2L939.8 499.3L940.8 497.5L941.9 495.6L942.9 493.8L943.9 492.0L945.0 490.3L946.0 488.6L946.9 486.8L947.9 485.0L948.9 483.2L949.8 481.4L950.8 479.7L951.7 477.9L952.7 476.2L953.8 474.4L954.8 472.8L955.9 471.2L957.1 469.6L958.4 468.1L959.8 466.7L961.2 465.2L962.7 463.9L964.2 462.5L965.7 461.1L967.1 459.7L968.6 458.3L969.9 456.9L971.2 455.3L972.5 453.8L973.7 452.2L974.9 450.6L976.1 449.0L977.3 447.3L978.5 445.7L979.7 444.1L981.0 442.6L982.3 441.0L983.6 439.5L985.0 438.1L986.4 436.7L987.8 435.2L989.2 433.8L990.7 432.4L992.2 431.0L993.8 429.7L995.4 428.5L997.0 427.3L998.6 426.2L1000.3 425.3L1002.0 424.3L1003.7 423.4L1005.5 422.6L1007.4 421.8L1009.2 421.0L1011.1 420.2L1013.0 419.5L1014.9 418.7L1016.8 418.0L1018.7 417.3L1020.6 416.6L1022.5 415.9L1024.4 415.2L1026.2 414.5L1028.1 413.8L1030.0 413.0L1031.9 412.3L1033.8 411.6L1035.7 410.9L1037.6 410.3L1039.5 409.7L1041.4 409.1L1043.3 408.7L1045.2 408.2L1047.2 407.7L1049.1 407.3L1051.1 406.9L1053.1 406.5L1055.0 406.1L1057.0 405.7L1059.0 405.3L1061.0 405.0L1062.9 404.6L1064.9 404.3L1066.9 404.0L1068.9 403.7L1070.9 403.4L1072.9 403.1L1074.9 402.9L1076.9 402.7L1078.9 402.4L1080.8 402.2L1082.8 402.0L1084.8 401.8L1086.8 401.7L1088.8 401.5L1090.8 401.3L1092.8 401.2L1094.8 401.0L1096.8 400.8L1098.8 400.7L1100.8 400.6L1102.8 400.4L1104.8 400.3L1106.8 400.2L1108.8 400.1L1110.8 400.0L1112.8 399.8L1114.8 399.7L1116.8 399.7L1118.8 399.6L1120.8 399.5L1122.8 399.4L1124.9 399.3L1126.9 399.2L1128.9 399.1L1130.9 399.0L1132.9 399.0L1134.9 398.9L1136.9 398.8L1138.9 398.8L1140.9 398.7L1142.9 398.6L1144.9 398.6L1146.9 398.5L1148.9 398.5L1150.9 398.4L1152.9 398.4L1154.9 398.3L1156.9 398.3L1158.9 398.3L1160.9 398.2L1162.9 398.2L1164.9 398.2L1166.9 398.1L1168.9 398.1L1170.9 398.1L1172.9 398.0L1174.9 398.0L1177.0 398.0L1179.0 397.9L1181.0 397.9L1183.0 397.9L1185.0 397.9L1187.0 397.8L1189.0 397.8L1191.0 397.8L1193.0 397.8L1195.0 397.8L1197.0 397.8" fill="none" stroke="#0000ff" stroke-width="5.5" stroke-linejoin="round" stroke-linecap="butt"/>
<g fill="none" stroke="#4a4a4a" stroke-width="1.45"><circle cx="33.0" cy="381.6" r="8.0"/><circle cx="38.6" cy="381.5" r="8.0"/><circle cx="44.2" cy="381.4" r="8.0"/><circle cx="49.8" cy="381.2" r="8.0"/><circle cx="55.4" cy="381.1" r="8.0"/><circle cx="61.0" cy="381.0" r="8.0"/><circle cx="66.6" cy="380.8" r="8.0"/><circle cx="72.2" cy="380.7" r="8.0"/><circle cx="77.8" cy="380.6" r="8.0"/><circle cx="83.4" cy="380.4" r="8.0"/><circle cx="89.0" cy="380.2" r="8.0"/><circle cx="94.6" cy="380.0" r="8.0"/><circle cx="100.2" cy="379.7" r="8.0"/><circle cx="105.8" cy="378.8" r="8.0"/><circle cx="111.4" cy="376.6" r="8.0"/><circle cx="117.0" cy="373.5" r="8.0"/><circle cx="122.6" cy="369.6" r="8.0"/><circle cx="128.2" cy="364.3" r="8.0"/><circle cx="133.8" cy="358.2" r="8.0"/><circle cx="139.4" cy="352.2" r="8.0"/><circle cx="145.0" cy="346.8" r="8.0"/><circle cx="150.6" cy="342.2" r="8.0"/><circle cx="156.2" cy="339.4" r="8.0"/><circle cx="161.8" cy="338.3" r="8.0"/><circle cx="167.4" cy="340.6" r="8.0"/><circle cx="173.0" cy="344.2" r="8.0"/><circle cx="178.6" cy="349.2" r="8.0"/><circle cx="184.2" cy="353.5" r="8.0"/><circle cx="189.8" cy="357.1" r="8.0"/><circle cx="195.4" cy="359.8" r="8.0"/><circle cx="201.0" cy="361.9" r="8.0"/><circle cx="206.6" cy="362.6" r="8.0"/><circle cx="212.2" cy="360.6" r="8.0"/><circle cx="217.8" cy="357.6" r="8.0"/><circle cx="223.4" cy="353.0" r="8.0"/><circle cx="229.0" cy="347.5" r="8.0"/><circle cx="234.6" cy="340.9" r="8.0"/><circle cx="240.2" cy="335.4" r="8.0"/><circle cx="245.8" cy="331.3" r="8.0"/><circle cx="251.4" cy="328.7" r="8.0"/><circle cx="257.0" cy="329.6" r="8.0"/><circle cx="262.6" cy="332.4" r="8.0"/><circle cx="268.2" cy="336.9" r="8.0"/><circle cx="273.8" cy="341.5" r="8.0"/><circle cx="279.4" cy="345.2" r="8.0"/><circle cx="285.0" cy="348.0" r="8.0"/><circle cx="290.6" cy="349.9" r="8.0"/><circle cx="296.2" cy="351.3" r="8.0"/><circle cx="301.8" cy="350.9" r="8.0"/><circle cx="307.4" cy="348.1" r="8.0"/><circle cx="313.0" cy="344.1" r="8.0"/><circle cx="318.6" cy="338.3" r="8.0"/><circle cx="324.2" cy="332.5" r="8.0"/><circle cx="329.8" cy="326.5" r="8.0"/><circle cx="335.4" cy="322.6" r="8.0"/><circle cx="341.0" cy="320.0" r="8.0"/><circle cx="346.6" cy="319.9" r="8.0"/><circle cx="352.2" cy="322.1" r="8.0"/><circle cx="357.8" cy="325.7" r="8.0"/><circle cx="363.4" cy="330.8" r="8.0"/><circle cx="369.0" cy="334.3" r="8.0"/><circle cx="374.6" cy="336.8" r="8.0"/><circle cx="380.2" cy="338.0" r="8.0"/><circle cx="385.8" cy="338.6" r="8.0"/><circle cx="391.4" cy="338.2" r="8.0"/><circle cx="397.0" cy="335.9" r="8.0"/><circle cx="402.6" cy="332.1" r="8.0"/><circle cx="408.2" cy="326.2" r="8.0"/><circle cx="413.8" cy="319.7" r="8.0"/><circle cx="419.4" cy="312.3" r="8.0"/><circle cx="425.0" cy="308.1" r="8.0"/><circle cx="430.6" cy="305.6" r="8.0"/><circle cx="436.2" cy="305.0" r="8.0"/><circle cx="441.8" cy="306.1" r="8.0"/><circle cx="447.4" cy="308.7" r="8.0"/><circle cx="453.0" cy="313.9" r="8.0"/><circle cx="458.6" cy="318.0" r="8.0"/><circle cx="464.2" cy="321.2" r="8.0"/><circle cx="469.8" cy="323.5" r="8.0"/><circle cx="475.4" cy="325.0" r="8.0"/><circle cx="481.0" cy="326.0" r="8.0"/><circle cx="486.6" cy="327.0" r="8.0"/><circle cx="492.2" cy="327.5" r="8.0"/><circle cx="497.8" cy="327.9" r="8.0"/><circle cx="503.4" cy="328.2" r="8.0"/><circle cx="509.0" cy="328.4" r="8.0"/><circle cx="514.6" cy="328.7" r="8.0"/><circle cx="520.2" cy="328.8" r="8.0"/><circle cx="525.8" cy="328.7" r="8.0"/><circle cx="531.4" cy="328.4" r="8.0"/><circle cx="537.0" cy="328.0" r="8.0"/><circle cx="542.6" cy="327.5" r="8.0"/><circle cx="548.2" cy="327.0" r="8.0"/><circle cx="553.8" cy="326.6" r="8.0"/><circle cx="559.4" cy="326.3" r="8.0"/><circle cx="565.0" cy="326.1" r="8.0"/><circle cx="570.6" cy="325.9" r="8.0"/><circle cx="576.2" cy="325.8" r="8.0"/><circle cx="581.8" cy="325.7" r="8.0"/><circle cx="587.4" cy="325.6" r="8.0"/><circle cx="593.0" cy="325.5" r="8.0"/><circle cx="598.6" cy="325.5" r="8.0"/><circle cx="604.2" cy="325.6" r="8.0"/><circle cx="609.8" cy="325.6" r="8.0"/><circle cx="615.4" cy="325.8" r="8.0"/><circle cx="621.0" cy="325.9" r="8.0"/><circle cx="626.6" cy="326.1" r="8.0"/><circle cx="632.2" cy="326.4" r="8.0"/><circle cx="637.8" cy="326.7" r="8.0"/><circle cx="643.4" cy="327.2" r="8.0"/><circle cx="649.0" cy="327.7" r="8.0"/><circle cx="654.6" cy="328.1" r="8.0"/><circle cx="660.2" cy="328.5" r="8.0"/><circle cx="665.8" cy="328.8" r="8.0"/><circle cx="671.4" cy="329.0" r="8.0"/><circle cx="677.0" cy="329.2" r="8.0"/><circle cx="682.6" cy="329.4" r="8.0"/><circle cx="688.2" cy="329.6" r="8.0"/><circle cx="693.8" cy="329.7" r="8.0"/><circle cx="699.4" cy="329.8" r="8.0"/><circle cx="705.0" cy="329.9" r="8.0"/><circle cx="710.6" cy="330.0" r="8.0"/><circle cx="716.2" cy="329.9" r="8.0"/><circle cx="721.8" cy="329.7" r="8.0"/><circle cx="727.4" cy="329.4" r="8.0"/><circle cx="733.0" cy="329.0" r="8.0"/><circle cx="738.6" cy="328.6" r="8.0"/><circle cx="744.2" cy="328.1" r="8.0"/><circle cx="749.8" cy="327.5" r="8.0"/><circle cx="755.4" cy="326.8" r="8.0"/><circle cx="761.0" cy="325.8" r="8.0"/><circle cx="766.6" cy="324.7" r="8.0"/><circle cx="772.2" cy="323.4" r="8.0"/><circle cx="777.8" cy="321.9" r="8.0"/><circle cx="783.4" cy="320.2" r="8.0"/><circle cx="789.0" cy="318.0" r="8.0"/><circle cx="794.6" cy="315.3" r="8.0"/><circle cx="800.2" cy="312.3" r="8.0"/><circle cx="805.8" cy="309.1" r="8.0"/><circle cx="811.4" cy="305.7" r="8.0"/><circle cx="817.0" cy="302.2" r="8.0"/><circle cx="822.6" cy="298.3" r="8.0"/><circle cx="828.2" cy="294.1" r="8.0"/><circle cx="833.8" cy="289.4" r="8.0"/><circle cx="839.4" cy="284.6" r="8.0"/><circle cx="845.0" cy="279.1" r="8.0"/><circle cx="850.6" cy="272.1" r="8.0"/><circle cx="856.2" cy="262.8" r="8.0"/><circle cx="861.8" cy="252.4" r="8.0"/><circle cx="867.4" cy="242.6" r="8.0"/><circle cx="873.0" cy="233.0" r="8.0"/><circle cx="878.6" cy="222.9" r="8.0"/><circle cx="884.2" cy="212.0" r="8.0"/><circle cx="889.8" cy="200.1" r="8.0"/><circle cx="895.4" cy="186.4" r="8.0"/><circle cx="901.0" cy="173.5" r="8.0"/><circle cx="906.6" cy="161.8" r="8.0"/><circle cx="912.2" cy="153.2" r="8.0"/><circle cx="1041.0" cy="449.2" r="8.0"/><circle cx="1046.6" cy="438.6" r="8.0"/><circle cx="1052.2" cy="430.2" r="8.0"/><circle cx="1057.8" cy="423.2" r="8.0"/><circle cx="1063.4" cy="417.3" r="8.0"/><circle cx="1069.0" cy="412.4" r="8.0"/><circle cx="1074.6" cy="408.4" r="8.0"/><circle cx="1080.2" cy="404.8" r="8.0"/><circle cx="1085.8" cy="401.9" r="8.0"/><circle cx="1091.4" cy="399.4" r="8.0"/><circle cx="1097.0" cy="397.2" r="8.0"/><circle cx="1102.6" cy="395.4" r="8.0"/><circle cx="1108.2" cy="394.1" r="8.0"/><circle cx="1113.8" cy="393.0" r="8.0"/><circle cx="1119.4" cy="392.3" r="8.0"/><circle cx="1125.0" cy="391.7" r="8.0"/><circle cx="1130.6" cy="391.2" r="8.0"/><circle cx="1136.2" cy="391.0" r="8.0"/><circle cx="1141.8" cy="390.7" r="8.0"/><circle cx="1147.4" cy="390.3" r="8.0"/><circle cx="1153.0" cy="389.9" r="8.0"/><circle cx="1158.6" cy="389.7" r="8.0"/><circle cx="1164.2" cy="389.5" r="8.0"/><circle cx="1169.8" cy="389.4" r="8.0"/><circle cx="1175.4" cy="389.3" r="8.0"/><circle cx="1181.0" cy="389.1" r="8.0"/><circle cx="1186.6" cy="389.1" r="8.0"/><circle cx="921.1" cy="186.1" r="8.0"/><circle cx="929.0" cy="240.9" r="8.0"/><circle cx="933.0" cy="318.0" r="8.0"/><circle cx="938.0" cy="440.5" r="8.0"/><circle cx="943.7" cy="609.5" r="8.0"/><circle cx="950.0" cy="789.3" r="8.0"/><circle cx="956.0" cy="957.0" r="8.0"/><circle cx="961.8" cy="1107.0" r="8.0"/><circle cx="967.3" cy="1213.0" r="8.0"/><circle cx="975.5" cy="1267.0" r="8.0"/><circle cx="984.0" cy="1219.5" r="8.0"/><circle cx="990.3" cy="1130.0" r="8.0"/><circle cx="994.0" cy="1029.0" r="8.0"/><circle cx="998.5" cy="899.6" r="8.0"/><circle cx="1006.5" cy="789.3" r="8.0"/><circle cx="1010.7" cy="706.2" r="8.0"/><circle cx="1016.9" cy="629.3" r="8.0"/><circle cx="1024.6" cy="571.0" r="8.0"/><circle cx="1023.7" cy="532.4" r="8.0"/><circle cx="1031.0" cy="493.8" r="8.0"/><circle cx="1036.2" cy="470.3" r="8.0"/><circle cx="1037.6" cy="458.0" r="8.0"/></g>
<path d="M28.0 384.3L30.0 384.3L32.0 384.2L34.0 384.2L36.0 384.1L38.0 384.1L40.0 384.1L42.0 384.0L44.0 384.0L46.0 383.9L48.0 383.9L50.0 383.8L52.0 383.8L54.0 383.7L56.0 383.7L58.0 383.6L60.0 383.6L62.0 383.6L64.0 383.5L66.0 383.5L68.0 383.4L70.0 383.4L72.0 383.3L74.0 383.3L76.0 383.2L78.0 383.2L80.0 383.1L82.0 383.1L84.0 383.0L86.0 382.9L88.0 382.9L90.0 382.8L92.0 382.7L94.1 382.6L96.1 382.5L98.1 382.4L100.1 382.3L102.0 382.1L104.0 381.9L105.9 381.4L107.8 380.8L109.7 380.0L111.6 379.1L113.4 378.3L115.2 377.4L116.9 376.5L118.7 375.4L120.3 374.3L122.0 373.1L123.6 371.9L125.1 370.6L126.5 369.3L128.0 367.9L129.3 366.4L130.7 364.9L132.1 363.5L133.5 362.0L134.9 360.6L136.3 359.1L137.7 357.7L139.1 356.2L140.5 354.8L141.9 353.4L143.4 352.1L144.9 350.8L146.4 349.5L148.0 348.2L149.6 346.9L151.3 345.8L153.0 345.0L154.9 344.2L156.8 343.5L158.8 343.0L160.8 342.7L162.7 342.8L164.6 343.4L166.5 344.2L168.4 345.2L170.1 346.1L171.8 347.1L173.4 348.2L175.0 349.5L176.6 350.8L178.1 352.1L179.7 353.4L181.3 354.5L183.0 355.6L184.7 356.7L186.4 357.7L188.2 358.8L190.0 359.7L191.8 360.5L193.6 361.3L195.5 361.9L197.4 362.5L199.4 363.1L201.3 363.6L203.3 364.0L205.3 364.2L207.2 364.1L209.2 363.8L211.2 363.2L213.1 362.5L215.0 361.8L216.8 361.1L218.5 360.1L220.2 359.1L221.8 357.9L223.4 356.6L225.0 355.2L226.5 353.9L228.0 352.6L229.5 351.3L230.9 349.8L232.3 348.3L233.7 346.8L235.1 345.3L236.5 343.8L237.9 342.5L239.5 341.3L241.1 340.3L242.8 339.2L244.7 338.1L246.5 337.1L248.4 336.3L250.3 335.7L252.2 335.4L254.1 335.5L256.0 336.0L258.0 336.7L259.9 337.5L261.7 338.4L263.4 339.3L265.1 340.4L266.7 341.6L268.2 342.9L269.8 344.2L271.4 345.5L273.0 346.6L274.7 347.7L276.5 348.7L278.2 349.7L280.0 350.7L281.8 351.6L283.6 352.4L285.5 353.1L287.4 353.6L289.4 354.1L291.3 354.6L293.4 355.0L295.4 355.3L297.3 355.5L299.2 355.4L301.1 355.0L303.0 354.2L304.8 353.2L306.6 352.1L308.3 350.9L309.9 349.9L311.4 348.7L312.9 347.3L314.3 345.9L315.7 344.4L317.0 342.9L318.4 341.3L319.8 339.8L321.2 338.3L322.5 336.9L323.9 335.3L325.2 333.7L326.5 332.2L327.8 330.6L329.2 329.2L330.6 327.8L332.1 326.6L333.7 325.5L335.4 324.4L337.2 323.3L339.1 322.3L341.0 321.5L342.9 321.0L344.7 320.9L346.6 321.3L348.6 321.9L350.5 322.7L352.4 323.7L354.1 324.6L355.8 325.6L357.3 326.8L358.8 328.2L360.3 329.6L361.8 331.0L363.3 332.3L365.0 333.5L366.7 334.6L368.4 335.6L370.2 336.7L372.0 337.6L373.8 338.4L375.7 338.9L377.6 339.3L379.6 339.7L381.6 340.1L383.6 340.4L385.6 340.5L387.6 340.6L389.5 340.4L391.5 339.8L393.4 339.0L395.3 338.1L397.0 337.1L398.7 336.1L400.2 335.0L401.7 333.7L403.1 332.3L404.5 330.8L405.9 329.3L407.2 327.7L408.6 326.1L409.9 324.6L411.2 323.1L412.5 321.5L413.7 319.8L414.9 318.1L416.0 316.3L417.2 314.6L418.4 313.0L419.7 311.5L421.0 310.1L422.5 308.9L424.0 307.8L425.7 306.7L427.5 305.7L429.4 304.7L431.4 303.9L433.3 303.4L435.2 303.2L437.1 303.4L439.1 303.9L441.0 304.6L442.9 305.5L444.7 306.4L446.3 307.3L447.9 308.5L449.3 309.9L450.7 311.4L452.1 312.9L453.5 314.4L455.0 315.9L456.5 317.1L458.1 318.3L459.8 319.5L461.4 320.7L463.1 321.8L464.8 322.9L466.6 323.9L468.3 324.8L470.1 325.6L472.0 326.2L473.8 326.9L475.7 327.6L477.7 328.2L479.6 328.7L481.6 329.2L483.6 329.6L485.6 330.0L487.5 330.2L489.5 330.5L491.5 330.7L493.4 330.9L495.4 331.1L497.4 331.3L499.4 331.4L501.4 331.6L503.4 331.7L505.4 331.9L507.5 332.0L509.5 332.1L511.5 332.2L513.5 332.2L515.5 332.3L517.5 332.3L519.5 332.3L521.5 332.3L523.5 332.2L525.5 332.1L527.5 332.0L529.5 331.8L531.5 331.6L533.4 331.4L535.4 331.2L537.4 331.0L539.4 330.8L541.4 330.6L543.4 330.4L545.4 330.1L547.4 329.9L549.4 329.7L551.4 329.5L553.4 329.3L555.4 329.2L557.4 329.0L559.4 328.9L561.4 328.8L563.4 328.8L565.4 328.7L567.4 328.7L569.4 328.6L571.4 328.5L573.4 328.5L575.4 328.5L577.4 328.4L579.4 328.4L581.4 328.3L583.4 328.3L585.4 328.3L587.4 328.2L589.4 328.2L591.4 328.2L593.4 328.2L595.4 328.2L597.4 328.2L599.4 328.2L601.4 328.2L603.4 328.3L605.4 328.3L607.4 328.3L609.4 328.4L611.4 328.4L613.4 328.5L615.4 328.5L617.4 328.6L619.4 328.6L621.4 328.7L623.4 328.8L625.4 328.8L627.4 328.9L629.4 329.0L631.4 329.1L633.4 329.2L635.4 329.4L637.4 329.5L639.4 329.7L641.4 329.9L643.4 330.0L645.4 330.2L647.4 330.4L649.4 330.6L651.4 330.7L653.4 330.9L655.4 331.0L657.4 331.2L659.4 331.3L661.4 331.5L663.4 331.6L665.4 331.7L667.4 331.8L669.4 331.8L671.4 331.9L673.4 332.0L675.4 332.1L677.4 332.2L679.4 332.2L681.4 332.3L683.4 332.4L685.4 332.5L687.4 332.5L689.4 332.6L691.4 332.7L693.4 332.7L695.4 332.8L697.4 332.8L699.4 332.8L701.4 332.9L703.4 332.9L705.4 332.9L707.4 332.9L709.4 332.9L711.4 332.9L713.4 332.8L715.4 332.8L717.4 332.7L719.4 332.6L721.4 332.5L723.4 332.4L725.4 332.3L727.4 332.2L729.4 332.0L731.4 331.9L733.4 331.7L735.4 331.5L737.4 331.3L739.4 331.2L741.4 331.0L743.4 330.8L745.4 330.6L747.4 330.4L749.3 330.2L751.3 329.9L753.3 329.7L755.3 329.4L757.3 329.0L759.2 328.6L761.2 328.2L763.2 327.8L765.2 327.3L767.1 326.8L769.1 326.3L771.0 325.8L773.0 325.3L774.9 324.7L776.8 324.1L778.7 323.5L780.5 322.9L782.4 322.3L784.2 321.6L786.0 320.8L787.9 320.0L789.7 319.2L791.5 318.3L793.2 317.3L795.0 316.4L796.8 315.4L798.6 314.4L800.3 313.3L802.0 312.3L803.8 311.2L805.5 310.1L807.2 309.0L808.9 308.0L810.6 306.9L812.2 305.8L813.9 304.7L815.6 303.6L817.2 302.5L818.8 301.3L820.5 300.1L822.1 298.9L823.7 297.7L825.3 296.5L826.8 295.2L828.4 294.0L829.9 292.7L831.5 291.4L833.0 290.1L834.5 288.8L836.1 287.5L837.6 286.2L839.1 284.8L840.6 283.5L842.1 282.1L843.5 280.7L844.9 279.2L846.2 277.8L847.5 276.3L848.7 274.7L849.8 273.2L851.0 271.6L852.0 269.9L853.1 268.2L854.1 266.5L855.1 264.8L856.1 263.0L857.1 261.2L858.0 259.4L859.0 257.6L859.9 255.9L860.9 254.1L861.9 252.3L862.8 250.5L863.8 248.7L864.8 247.0L865.8 245.3L866.8 243.5L867.8 241.8L868.8 240.1L869.9 238.4L870.9 236.6L871.9 234.9L872.9 233.2L873.9 231.4L874.9 229.7L875.9 228.0L876.8 226.2L877.8 224.4L878.7 222.7L879.7 220.9L880.6 219.1L881.5 217.4L882.4 215.6L883.3 213.8L884.2 212.0L885.1 210.2L886.0 208.4L886.8 206.6L887.7 204.8L888.5 203.0L889.3 201.1L890.1 199.3L890.9 197.5L891.7 195.6L892.4 193.7L893.2 191.9L893.9 190.0L894.7 188.2L895.4 186.3L896.2 184.5L897.0 182.6L897.8 180.8L898.6 179.0L899.4 177.1L900.2 175.3L901.0 173.5L901.8 171.6L902.7 169.8L903.5 168.0L904.4 166.2L905.3 164.4L906.2 162.6L907.1 160.8L908.0 159.0L909.0 157.3L910.1 155.7L911.5 153.9L913.0 152.8L914.5 153.7L915.9 155.5L916.6 157.3L917.2 159.2L917.6 161.2L918.0 163.2L918.5 165.2L918.9 167.1L919.3 169.1L919.7 171.1L920.1 173.0L920.5 175.0L920.8 177.0L921.2 178.9L921.5 180.9L921.9 182.9L922.2 184.9L922.6 186.8L922.9 188.8L923.2 190.8L923.6 192.7L923.9 194.7L924.3 196.7L924.6 198.7L925.0 200.6L925.3 202.6L925.7 204.6L926.0 206.6L926.3 208.5L926.7 210.5L926.9 212.5L927.2 214.5L927.5 216.4L927.7 218.4L928.0 220.4L928.2 222.4L928.5 224.4L928.7 226.4L929.0 228.4L929.2 230.4L929.4 232.4L929.6 234.3L929.8 236.3L930.0 238.3L930.2 240.3L930.4 242.3L930.6 244.3L930.7 246.3L930.9 248.3L931.0 250.3L931.1 252.3L931.2 254.3L931.3 256.3L931.4 258.3L931.5 260.3L931.6 262.3L931.6 264.3L931.7 266.3L931.8 268.3L931.9 270.3L931.9 272.3L932.0 274.3L932.1 276.3L932.1 278.3L932.2 280.3L932.3 282.3L932.4 284.3L932.5 286.3L932.6 288.3L932.7 290.3L932.8 292.3L932.9 294.3L933.0 296.3L933.1 298.3L933.2 300.3L933.3 302.3L933.4 304.3L933.5 306.3L933.6 308.3L933.7 310.3L933.8 312.3L933.9 314.3L934.0 316.3L934.1 318.3L934.2 320.3L934.3 322.3L934.4 324.3L934.5 326.3L934.5 328.3L934.6 330.3L934.7 332.3L934.8 334.3L934.8 336.3L934.9 338.3L935.0 340.3L935.1 342.3L935.1 344.3L935.2 346.3L935.3 348.3L935.3 350.3L935.4 352.3L935.5 354.3L935.5 356.3L935.6 358.3L935.7 360.3L935.7 362.3L935.8 364.3L935.9 366.3L935.9 368.3L936.0 370.3L936.0 372.3L936.1 374.3L936.2 376.3L936.2 378.3L936.3 380.3L936.4 382.3L936.4 384.3L936.5 386.3L936.6 388.3L936.7 390.3L936.7 392.3L936.8 394.3L936.9 396.3L936.9 398.3L937.0 400.3L937.1 402.3L937.2 404.3L937.2 406.3L937.3 408.3L937.4 410.3L937.5 412.3L937.6 414.3L937.6 416.3L937.7 418.3L937.8 420.3L937.9 422.3L938.0 424.3L938.1 426.3L938.1 428.3L938.2 430.3L938.3 432.3L938.4 434.3L938.5 436.3L938.6 438.3L938.6 440.3L938.7 442.3L938.8 444.3L938.9 446.3L939.0 448.3L939.1 450.3L939.1 452.3L939.2 454.3L939.3 456.3L939.4 458.3L939.4 460.3L939.5 462.3L939.6 464.3L939.7 466.3L939.7 468.3L939.8 470.3L939.9 472.3L940.0 474.3L940.0 476.3L940.1 478.3L940.2 480.3L940.2 482.3L940.3 484.3L940.4 486.3L940.4 488.3L940.5 490.3L940.5 492.3L940.6 494.3L940.7 496.3L940.7 498.3L940.8 500.3L940.9 502.3L940.9 504.3L941.0 506.3L941.1 508.3L941.1 510.3L941.2 512.3L941.2 514.3L941.3 516.3L941.4 518.3L941.4 520.3L941.5 522.3L941.5 524.3L941.6 526.3L941.7 528.3L941.7 530.3L941.8 532.3L941.8 534.3L941.9 536.3L942.0 538.3L942.0 540.3L942.1 542.3L942.1 544.3L942.2 546.3L942.3 548.3L942.3 550.3L942.4 552.3L942.4 554.3L942.5 556.3L942.5 558.3L942.6 560.4L942.7 562.4L942.7 564.4L942.8 566.4L942.8 568.4L942.9 570.4L942.9 572.4L943.0 574.4L943.0 576.4L943.1 578.4L943.2 580.4L943.2 582.4L943.3 584.4L943.3 586.4L943.4 588.4L943.4 590.4L943.5 592.4L943.6 594.4L943.6 596.4L943.7 598.4L943.7 600.4L943.8 602.4L943.8 604.4L943.9 606.4L944.0 608.4L944.0 610.4L944.1 612.4L944.2 614.4L944.2 616.4L944.3 618.4L944.3 620.4L944.4 622.4L944.5 624.4L944.5 626.4L944.6 628.4L944.7 630.4L944.7 632.4L944.8 634.4L944.8 636.4L944.9 638.4L945.0 640.4L945.0 642.4L945.1 644.4L945.2 646.4L945.2 648.4L945.3 650.4L945.4 652.4L945.4 654.4L945.5 656.4L945.6 658.4L945.6 660.4L945.7 662.4L945.8 664.4L945.8 666.4L945.9 668.4L946.0 670.4L946.1 672.4L946.1 674.4L946.2 676.4L946.3 678.4L946.3 680.4L946.4 682.4L946.5 684.4L946.5 686.4L946.6 688.4L946.7 690.4L946.8 692.4L946.8 694.4L946.9 696.4L947.0 698.4L947.1 700.4L947.1 702.4L947.2 704.4L947.3 706.4L947.4 708.4L947.4 710.4L947.5 712.4L947.6 714.4L947.7 716.4L947.8 718.4L947.8 720.4L947.9 722.4L948.0 724.4L948.1 726.4L948.2 728.4L948.3 730.4L948.4 732.4L948.4 734.4L948.5 736.4L948.6 738.4L948.7 740.4L948.8 742.4L948.9 744.4L948.9 746.4L949.0 748.4L949.1 750.4L949.2 752.4L949.3 754.4L949.4 756.4L949.5 758.4L949.5 760.4L949.6 762.4L949.7 764.4L949.8 766.4L949.9 768.4L950.0 770.4L950.0 772.4L950.1 774.4L950.2 776.4L950.3 778.4L950.4 780.4L950.4 782.4L950.5 784.4L950.6 786.4L950.7 788.4L950.7 790.4L950.8 792.4L950.9 794.4L951.0 796.4L951.0 798.4L951.1 800.4L951.2 802.4L951.2 804.4L951.3 806.4L951.4 808.4L951.5 810.4L951.5 812.4L951.6 814.4L951.7 816.4L951.7 818.4L951.8 820.4L951.9 822.4L951.9 824.4L952.0 826.4L952.1 828.4L952.1 830.4L952.2 832.4L952.3 834.4L952.3 836.4L952.4 838.4L952.5 840.4L952.5 842.4L952.6 844.4L952.7 846.4L952.7 848.4L952.8 850.4L952.9 852.4L952.9 854.4L953.0 856.4L953.1 858.4L953.1 860.4L953.2 862.4L953.3 864.4L953.3 866.4L953.4 868.4L953.4 870.4L953.5 872.4L953.6 874.4L953.6 876.4L953.7 878.4L953.8 880.4L953.8 882.4L953.9 884.4L954.0 886.4L954.0 888.4L954.1 890.4L954.2 892.4L954.2 894.4L954.3 896.4L954.4 898.4L954.4 900.4L954.5 902.4L954.6 904.4L954.6 906.4L954.7 908.4L954.8 910.4L954.8 912.4L954.9 914.4L955.0 916.4L955.0 918.4L955.1 920.4L955.2 922.4L955.2 924.5L955.3 926.5L955.4 928.5L955.4 930.5L955.5 932.5L955.6 934.5L955.7 936.5L955.7 938.5L955.8 940.5L955.9 942.5L956.0 944.5L956.0 946.5L956.1 948.5L956.2 950.5L956.2 952.5L956.3 954.5L956.4 956.5L956.4 958.5L956.5 960.5L956.6 962.5L956.6 964.5L956.7 966.5L956.7 968.5L956.8 970.5L956.9 972.5L956.9 974.5L957.0 976.5L957.0 978.5L957.1 980.5L957.1 982.5L957.2 984.5L957.2 986.5L957.3 988.5L957.3 990.5L957.4 992.5L957.4 994.5L957.5 996.5L957.5 998.5L957.6 1000.5L957.6 1002.5L957.7 1004.5L957.7 1006.5L957.8 1008.5L957.8 1010.5L957.9 1012.5L957.9 1014.5L958.0 1016.5L958.1 1018.5L958.1 1020.5L958.2 1022.5L958.2 1024.5L958.3 1026.5L958.3 1028.5L958.4 1030.5L958.4 1032.5L958.5 1034.5L958.6 1036.5L958.6 1038.5L958.7 1040.5L958.8 1042.5L958.8 1044.5L958.9 1046.5L958.9 1048.5L959.0 1050.5L959.1 1052.5L959.2 1054.5L959.2 1056.5L959.3 1058.5L959.4 1060.5L959.4 1062.5L959.5 1064.5L959.6 1066.5L959.6 1068.5L959.7 1070.5L959.8 1072.5L959.9 1074.5L959.9 1076.5L960.0 1078.5L960.1 1080.5L960.2 1082.5L960.3 1084.5L960.3 1086.5L960.4 1088.5L960.5 1090.5L960.6 1092.5L960.7 1094.5L960.8 1096.5L960.9 1098.5L961.0 1100.5L961.1 1102.5L961.2 1104.5L961.3 1106.5L961.4 1108.5L961.5 1110.5L961.6 1112.5L961.7 1114.5L961.8 1116.5L961.9 1118.5L962.0 1120.5L962.2 1122.5L962.3 1124.5L962.4 1126.5L962.6 1128.5L962.7 1130.5L962.8 1132.5L963.0 1134.5L963.1 1136.5L963.3 1138.5L963.4 1140.5L963.5 1142.5L963.7 1144.5L963.8 1146.5L964.0 1148.5L964.1 1150.5L964.3 1152.4L964.5 1154.4L964.6 1156.4L964.8 1158.4L964.9 1160.4L965.1 1162.4L965.2 1164.4L965.4 1166.4L965.5 1168.4L965.7 1170.4L965.8 1172.4L966.0 1174.4L966.2 1176.4L966.3 1178.4L966.5 1180.4L966.7 1182.4L966.9 1184.4L967.0 1186.4L967.2 1188.4L967.4 1190.4L967.6 1192.4L967.7 1194.3L967.9 1196.3L968.1 1198.3L968.3 1200.3L968.5 1202.3L968.6 1204.3L968.8 1206.3L969.0 1208.3L969.2 1210.3L969.3 1212.3L969.5 1214.3L969.7 1216.3L969.9 1218.3L970.0 1220.3L970.2 1222.3L970.4 1224.3L970.5 1226.3L970.7 1228.2L970.9 1230.2L971.0 1232.2L971.2 1234.2L971.4 1236.2L971.5 1238.2L971.7 1240.2L971.9 1242.2L972.0 1244.2L972.2 1246.2L972.4 1248.2L972.6 1250.2L972.8 1252.2L973.0 1254.2L973.1 1256.2L973.3 1258.2L973.5 1260.2L973.7 1262.1L973.9 1264.1L974.1 1266.1L974.3 1268.1L974.5 1270.1L974.8 1272.1L975.0 1274.1L975.3 1276.5L975.7 1279.0L976.0 1280.7L976.4 1280.8L976.8 1279.1L977.2 1276.6L977.6 1274.1L977.9 1272.2L978.1 1270.2L978.4 1268.2L978.6 1266.2L978.8 1264.2L979.0 1262.2L979.2 1260.2L979.4 1258.2L979.6 1256.2L979.7 1254.2L979.9 1252.3L980.1 1250.3L980.3 1248.3L980.5 1246.3L980.7 1244.3L980.8 1242.3L981.0 1240.3L981.2 1238.3L981.3 1236.3L981.5 1234.3L981.7 1232.3L981.8 1230.3L982.0 1228.3L982.2 1226.3L982.3 1224.3L982.5 1222.3L982.7 1220.3L982.8 1218.3L983.0 1216.3L983.2 1214.4L983.3 1212.4L983.5 1210.4L983.7 1208.4L983.8 1206.4L984.0 1204.4L984.2 1202.4L984.4 1200.4L984.5 1198.4L984.7 1196.4L984.9 1194.4L985.0 1192.4L985.2 1190.4L985.4 1188.4L985.5 1186.4L985.7 1184.4L985.9 1182.4L986.0 1180.4L986.2 1178.5L986.4 1176.5L986.5 1174.5L986.7 1172.5L986.9 1170.5L987.1 1168.5L987.2 1166.5L987.4 1164.5L987.6 1162.5L987.8 1160.5L987.9 1158.5L988.1 1156.5L988.3 1154.5L988.5 1152.5L988.6 1150.5L988.8 1148.5L989.0 1146.5L989.2 1144.5L989.3 1142.6L989.5 1140.6L989.7 1138.6L989.8 1136.6L990.0 1134.6L990.2 1132.6L990.3 1130.6L990.5 1128.6L990.6 1126.6L990.8 1124.6L990.9 1122.6L991.1 1120.6L991.2 1118.6L991.4 1116.6L991.5 1114.6L991.7 1112.6L991.8 1110.6L992.0 1108.6L992.1 1106.6L992.2 1104.6L992.3 1102.6L992.5 1100.6L992.6 1098.6L992.7 1096.6L992.8 1094.6L992.8 1092.6L992.9 1090.6L993.0 1088.6L993.1 1086.6L993.1 1084.6L993.2 1082.6L993.3 1080.6L993.3 1078.6L993.4 1076.6L993.4 1074.6L993.5 1072.6L993.5 1070.6L993.6 1068.6L993.6 1066.6L993.7 1064.6L993.7 1062.6L993.8 1060.6L993.8 1058.6L993.9 1056.6L993.9 1054.6L994.0 1052.6L994.0 1050.6L994.1 1048.6L994.1 1046.6L994.2 1044.6L994.2 1042.6L994.3 1040.6L994.3 1038.6L994.4 1036.6L994.4 1034.6L994.5 1032.6L994.6 1030.6L994.6 1028.6L994.7 1026.6L994.8 1024.6L994.8 1022.6L994.9 1020.6L995.0 1018.6L995.0 1016.6L995.1 1014.6L995.2 1012.6L995.3 1010.6L995.4 1008.6L995.4 1006.6L995.5 1004.6L995.6 1002.6L995.7 1000.6L995.8 998.6L995.9 996.6L995.9 994.6L996.0 992.6L996.1 990.6L996.2 988.6L996.3 986.6L996.4 984.6L996.5 982.6L996.5 980.6L996.6 978.6L996.7 976.6L996.8 974.6L996.9 972.6L997.0 970.6L997.0 968.6L997.1 966.6L997.2 964.6L997.3 962.6L997.4 960.6L997.4 958.6L997.5 956.6L997.6 954.6L997.7 952.6L997.7 950.6L997.8 948.6L997.9 946.6L998.0 944.6L998.1 942.6L998.1 940.6L998.2 938.6L998.3 936.6L998.4 934.6L998.5 932.6L998.5 930.6L998.6 928.6L998.7 926.6L998.8 924.6L998.9 922.6L999.0 920.6L999.1 918.6L999.2 916.6L999.2 914.6L999.3 912.6L999.4 910.6L999.5 908.6L999.6 906.6L999.7 904.6L999.8 902.6L999.9 900.6L1000.0 898.6L1000.1 896.6L1000.2 894.6L1000.3 892.6L1000.4 890.6L1000.5 888.6L1000.6 886.6L1000.7 884.6L1000.8 882.6L1000.9 880.6L1001.0 878.6L1001.1 876.6L1001.2 874.6L1001.3 872.6L1001.4 870.6L1001.5 868.6L1001.6 866.6L1001.7 864.6L1001.9 862.6L1002.0 860.6L1002.1 858.6L1002.2 856.6L1002.3 854.6L1002.4 852.6L1002.5 850.6L1002.7 848.6L1002.8 846.6L1002.9 844.6L1003.0 842.6L1003.2 840.6L1003.3 838.6L1003.4 836.6L1003.6 834.6L1003.7 832.6L1003.8 830.6L1004.0 828.7L1004.1 826.7L1004.2 824.7L1004.4 822.7L1004.5 820.7L1004.6 818.7L1004.8 816.7L1004.9 814.7L1005.0 812.7L1005.2 810.7L1005.3 808.7L1005.4 806.7L1005.5 804.7L1005.7 802.7L1005.8 800.7L1005.9 798.7L1006.1 796.7L1006.2 794.7L1006.3 792.7L1006.4 790.7L1006.5 788.7L1006.7 786.7L1006.8 784.7L1006.9 782.7L1007.0 780.7L1007.1 778.7L1007.2 776.7L1007.3 774.7L1007.4 772.7L1007.5 770.7L1007.6 768.7L1007.7 766.7L1007.8 764.7L1008.0 762.7L1008.1 760.7L1008.2 758.7L1008.3 756.7L1008.4 754.7L1008.5 752.7L1008.6 750.7L1008.7 748.7L1008.8 746.7L1008.9 744.7L1009.0 742.7L1009.1 740.7L1009.2 738.7L1009.3 736.7L1009.4 734.7L1009.5 732.7L1009.6 730.7L1009.7 728.7L1009.8 726.7L1009.9 724.7L1010.0 722.7L1010.2 720.7L1010.3 718.7L1010.4 716.7L1010.5 714.7L1010.6 712.7L1010.7 710.7L1010.8 708.7L1011.0 706.7L1011.1 704.7L1011.2 702.7L1011.3 700.7L1011.4 698.7L1011.6 696.7L1011.7 694.7L1011.8 692.7L1011.9 690.7L1012.0 688.7L1012.1 686.7L1012.2 684.7L1012.3 682.7L1012.5 680.7L1012.6 678.7L1012.7 676.7L1012.8 674.7L1012.9 672.7L1013.0 670.7L1013.2 668.7L1013.3 666.7L1013.4 664.7L1013.5 662.7L1013.7 660.7L1013.8 658.7L1013.9 656.7L1014.1 654.7L1014.2 652.7L1014.4 650.7L1014.6 648.7L1014.7 646.7L1014.9 644.7L1015.1 642.8L1015.2 640.8L1015.4 638.8L1015.6 636.8L1015.8 634.8L1016.0 632.8L1016.2 630.8L1016.4 628.9L1016.7 626.9L1017.0 624.9L1017.4 623.0L1017.8 621.0L1018.3 619.1L1018.7 617.1L1019.2 615.1L1019.7 613.2L1020.2 611.2L1020.7 609.3L1021.1 607.3L1021.6 605.4L1022.0 603.4L1022.4 601.4L1022.7 599.5L1023.0 597.5L1023.2 595.5L1023.4 593.5L1023.6 591.6L1023.8 589.6L1023.9 587.6L1024.1 585.6L1024.2 583.6L1024.3 581.6L1024.5 579.6L1024.6 577.6L1024.7 575.6L1024.8 573.6L1025.0 571.6L1025.1 569.6L1025.2 567.6L1025.3 565.6L1025.5 563.6L1025.6 561.6L1025.7 559.6L1025.8 557.6L1025.9 555.6L1026.1 553.6L1026.2 551.6L1026.3 549.6L1026.5 547.6L1026.6 545.6L1026.7 543.6L1026.9 541.6L1027.0 539.6L1027.2 537.6L1027.3 535.6L1027.5 533.6L1027.6 531.6L1027.8 529.6L1028.0 527.6L1028.1 525.6L1028.3 523.6L1028.5 521.6L1028.8 519.6L1029.0 517.7L1029.2 515.7L1029.5 513.7L1029.8 511.7L1030.1 509.8L1030.5 507.8L1030.8 505.8L1031.2 503.9L1031.6 501.9L1032.0 499.9L1032.5 498.0L1032.9 496.0L1033.4 494.1L1033.8 492.1L1034.3 490.1L1034.8 488.2L1035.3 486.3L1035.8 484.3L1036.3 482.4L1036.7 480.4L1037.2 478.5L1037.8 476.6L1038.3 474.6L1038.8 472.7L1039.4 470.8L1040.0 468.8L1040.6 466.9L1041.2 465.0L1041.8 463.1L1042.5 461.2L1043.1 459.3L1043.8 457.5L1044.5 455.6L1045.3 453.8L1046.0 451.9L1046.8 450.1L1047.7 448.2L1048.5 446.4L1049.4 444.6L1050.3 442.8L1051.3 441.1L1052.3 439.3L1053.3 437.6L1054.3 435.8L1055.3 434.2L1056.4 432.5L1057.5 430.8L1058.6 429.1L1059.8 427.5L1061.0 425.9L1062.2 424.3L1063.5 422.7L1064.8 421.2L1066.1 419.7L1067.5 418.3L1068.9 416.9L1070.4 415.5L1071.9 414.1L1073.4 412.8L1075.0 411.6L1076.6 410.3L1078.2 409.2L1079.9 408.1L1081.6 407.1L1083.3 406.1L1085.1 405.1L1086.8 404.2L1088.7 403.4L1090.5 402.5L1092.4 401.7L1094.2 401.0L1096.1 400.2L1098.0 399.5L1099.8 398.8L1101.7 398.2L1103.6 397.5L1105.5 396.9L1107.5 396.3L1109.4 395.8L1111.3 395.2L1113.3 394.8L1115.2 394.3L1117.2 393.9L1119.1 393.5L1121.1 393.2L1123.1 392.8L1125.1 392.5L1127.0 392.2L1129.0 392.0L1131.0 391.7L1133.0 391.5L1135.0 391.3L1137.0 391.1L1139.0 390.9L1141.0 390.8L1143.0 390.6L1145.0 390.5L1147.0 390.3L1149.0 390.2L1151.0 390.1L1153.0 389.9L1155.0 389.8L1157.0 389.8L1159.0 389.7L1161.0 389.6L1163.0 389.6L1165.0 389.5L1167.0 389.5L1169.0 389.4L1171.0 389.4L1173.0 389.3L1175.0 389.3L1177.0 389.2L1179.0 389.2L1181.0 389.1L1183.0 389.1L1185.0 389.1L1187.0 389.1L1189.0 389.0L1191.0 389.0L1193.0 389.0L1195.0 389.0L1197.0 389.0" fill="none" stroke="#ff0000" stroke-width="6.5" stroke-linejoin="round" stroke-linecap="butt"/>
</g>
<rect x="30.0" y="32.0" width="1164.0" height="1270.3" fill="none" stroke="#000" stroke-width="5.4"/>
<g stroke="#000" stroke-width="5.2"><line x1="142.0" y1="1302.3" x2="142.0" y2="1276.0"/><line x1="374.6" y1="1302.3" x2="374.6" y2="1276.0"/><line x1="607.2" y1="1302.3" x2="607.2" y2="1276.0"/><line x1="839.8" y1="1302.3" x2="839.8" y2="1276.0"/><line x1="1072.4" y1="1302.3" x2="1072.4" y2="1276.0"/><line x1="258.3" y1="1302.3" x2="258.3" y2="1290.0"/><line x1="490.9" y1="1302.3" x2="490.9" y2="1290.0"/><line x1="723.5" y1="1302.3" x2="723.5" y2="1290.0"/><line x1="956.1" y1="1302.3" x2="956.1" y2="1290.0"/><line x1="1188.7" y1="1302.3" x2="1188.7" y2="1290.0"/></g>
<g font-size="76.0" fill="#000"><text transform="translate(142.0 1388.2) scale(0.97 1)" text-anchor="middle">10.4</text><text transform="translate(374.6 1388.2) scale(0.97 1)" text-anchor="middle">10.8</text><text transform="translate(607.2 1388.2) scale(0.97 1)" text-anchor="middle">11.2</text><text transform="translate(839.8 1388.2) scale(0.97 1)" text-anchor="middle">11.6</text><text transform="translate(1072.4 1388.2) scale(0.97 1)" text-anchor="middle">12.0</text></g>
<clipPath id="cr"><rect x="1260.4" y="36.0" width="1165.7999999999997" height="1270.4"/></clipPath>
<g clip-path="url(#cr)">
<path d="M1259.0 493.2L1261.0 493.2L1263.0 493.2L1265.0 493.1L1267.1 493.0L1269.1 493.0L1271.1 492.9L1273.1 492.8L1275.1 492.7L1277.1 492.5L1279.1 492.4L1281.1 492.2L1283.1 492.1L1285.1 491.9L1287.1 491.7L1289.1 491.6L1291.1 491.4L1293.1 491.2L1295.0 491.0L1297.0 490.7L1299.0 490.5L1301.0 490.3L1303.0 490.1L1305.0 489.9L1307.0 489.6L1308.9 489.4L1310.9 489.2L1312.9 488.9L1314.9 488.7L1316.9 488.4L1318.9 488.1L1320.9 487.8L1322.8 487.5L1324.8 487.1L1326.8 486.8L1328.8 486.4L1330.8 486.0L1332.8 485.5L1334.7 485.1L1336.7 484.6L1338.6 484.1L1340.5 483.6L1342.4 483.0L1344.2 482.4L1346.1 481.7L1347.9 480.9L1349.7 479.9L1351.4 479.0L1353.2 478.0L1355.0 477.0L1356.8 476.1L1358.5 475.1L1360.3 474.1L1362.1 473.1L1363.9 472.2L1365.7 471.5L1367.6 471.0L1369.5 470.5L1371.5 470.0L1373.5 469.7L1375.5 469.4L1377.5 469.2L1379.5 469.2L1381.4 469.5L1383.2 470.1L1385.1 470.9L1386.9 471.8L1388.8 472.8L1390.6 473.7L1392.5 474.6L1394.4 475.3L1396.3 475.7L1398.3 476.2L1400.2 476.7L1402.2 477.1L1404.2 477.5L1406.2 477.9L1408.2 478.2L1410.2 478.4L1412.2 478.6L1414.1 478.6L1416.1 478.5L1418.0 478.3L1420.0 477.9L1421.9 477.5L1423.9 476.9L1425.8 476.3L1427.7 475.7L1429.7 475.0L1431.6 474.3L1433.5 473.5L1435.4 472.8L1437.3 472.2L1439.1 471.4L1440.9 470.5L1442.7 469.6L1444.5 468.7L1446.4 467.8L1448.2 467.1L1450.1 466.5L1452.0 465.9L1454.0 465.4L1455.9 464.9L1457.9 464.5L1459.9 464.2L1461.9 464.0L1463.8 464.1L1465.8 464.4L1467.7 465.0L1469.7 465.7L1471.6 466.3L1473.4 467.1L1475.2 467.9L1477.0 468.9L1478.8 469.8L1480.7 470.6L1482.5 471.3L1484.4 471.8L1486.4 472.2L1488.3 472.7L1490.3 473.1L1492.3 473.5L1494.3 473.9L1496.3 474.2L1498.3 474.5L1500.3 474.7L1502.3 474.9L1504.3 475.0L1506.2 475.0L1508.2 474.9L1510.2 474.6L1512.1 474.3L1514.1 473.8L1516.0 473.3L1518.0 472.7L1519.9 472.1L1521.9 471.4L1523.8 470.8L1525.7 470.1L1527.6 469.4L1529.4 468.7L1531.2 467.9L1533.0 467.0L1534.8 466.0L1536.6 465.0L1538.4 464.0L1540.2 463.2L1542.0 462.5L1543.9 461.9L1545.9 461.3L1547.8 460.7L1549.8 460.3L1551.8 460.0L1553.7 459.9L1555.7 460.2L1557.6 460.6L1559.6 461.3L1561.5 462.0L1563.4 462.6L1565.2 463.4L1567.0 464.4L1568.8 465.5L1570.5 466.4L1572.3 467.3L1574.2 467.9L1576.1 468.3L1578.0 468.8L1580.0 469.2L1581.9 469.6L1583.9 470.0L1586.0 470.4L1588.0 470.7L1590.0 470.9L1592.0 471.1L1594.0 471.2L1596.0 471.3L1597.9 471.3L1599.9 471.2L1601.9 470.9L1603.9 470.6L1605.9 470.2L1607.8 469.7L1609.8 469.2L1611.8 468.6L1613.7 468.0L1615.6 467.4L1617.5 466.8L1619.4 466.2L1621.3 465.5L1623.0 464.6L1624.8 463.6L1626.6 462.5L1628.3 461.6L1630.1 460.7L1632.0 460.0L1633.9 459.4L1635.9 458.9L1637.8 458.4L1639.8 458.0L1641.8 457.8L1643.7 457.9L1645.7 458.3L1647.6 458.9L1649.5 459.6L1651.4 460.4L1653.3 461.1L1655.1 461.9L1656.9 462.8L1658.7 463.7L1660.4 464.7L1662.2 465.7L1664.0 466.6L1665.8 467.4L1667.6 468.3L1669.5 469.2L1671.3 470.0L1673.1 470.9L1675.0 471.8L1676.8 472.6L1678.7 473.3L1680.6 474.0L1682.5 474.6L1684.4 475.2L1686.3 475.5L1688.2 475.9L1690.1 476.2L1692.1 476.6L1694.1 476.9L1696.1 477.2L1698.0 477.5L1700.0 477.8L1702.0 478.0L1704.1 478.2L1706.1 478.4L1708.1 478.6L1710.1 478.8L1712.1 478.9L1714.1 479.0L1716.1 479.0L1718.1 479.0L1720.1 479.0L1722.1 479.0L1724.1 479.0L1726.1 479.0L1728.1 479.0L1730.1 479.0L1732.1 479.0L1734.1 479.0L1736.1 479.0L1738.1 479.0L1740.1 479.0L1742.1 479.0L1744.2 479.0L1746.2 479.0L1748.2 479.0L1750.2 479.0L1752.2 479.0L1754.2 478.9L1756.2 478.9L1758.2 478.8L1760.2 478.8L1762.2 478.7L1764.2 478.6L1766.2 478.5L1768.2 478.4L1770.2 478.3L1772.2 478.1L1774.2 478.0L1776.2 477.9L1778.2 477.7L1780.2 477.6L1782.2 477.4L1784.2 477.3L1786.1 477.1L1788.1 476.9L1790.1 476.8L1792.1 476.6L1794.1 476.5L1796.1 476.3L1798.1 476.1L1800.1 476.0L1802.1 475.8L1804.1 475.7L1806.1 475.5L1808.1 475.4L1810.1 475.2L1812.1 475.0L1814.1 474.9L1816.1 474.7L1818.1 474.5L1820.1 474.3L1822.1 474.1L1824.1 473.9L1826.1 473.7L1828.0 473.5L1830.0 473.3L1832.0 473.1L1834.0 472.9L1836.0 472.7L1838.0 472.4L1840.0 472.2L1842.0 472.0L1844.0 471.8L1846.0 471.6L1848.0 471.4L1849.9 471.1L1851.9 470.9L1853.9 470.7L1855.9 470.5L1857.9 470.3L1859.9 470.0L1861.9 469.8L1863.9 469.6L1865.9 469.4L1867.9 469.2L1869.9 469.0L1871.9 468.8L1873.8 468.5L1875.8 468.3L1877.8 468.1L1879.8 467.9L1881.8 467.7L1883.8 467.4L1885.8 467.2L1887.8 467.0L1889.8 466.7L1891.8 466.5L1893.7 466.2L1895.7 466.0L1897.7 465.7L1899.7 465.4L1901.7 465.2L1903.7 464.9L1905.6 464.6L1907.6 464.3L1909.6 464.0L1911.6 463.7L1913.5 463.3L1915.5 463.0L1917.5 462.6L1919.5 462.3L1921.4 461.9L1923.4 461.5L1925.4 461.1L1927.3 460.7L1929.3 460.3L1931.2 459.8L1933.2 459.4L1935.1 459.0L1937.1 458.5L1939.0 458.0L1941.0 457.6L1942.9 457.1L1944.9 456.6L1946.8 456.1L1948.7 455.5L1950.7 455.0L1952.6 454.4L1954.5 453.9L1956.4 453.3L1958.4 452.7L1960.3 452.1L1962.2 451.4L1964.1 450.8L1966.0 450.1L1967.8 449.5L1969.7 448.8L1971.6 448.1L1973.4 447.4L1975.3 446.6L1977.1 445.9L1979.0 445.1L1980.8 444.3L1982.6 443.5L1984.5 442.6L1986.3 441.8L1988.1 440.9L1989.9 440.0L1991.7 439.1L1993.5 438.2L1995.3 437.3L1997.1 436.3L1998.8 435.4L2000.6 434.5L2002.3 433.5L2004.1 432.6L2005.9 431.6L2007.6 430.6L2009.4 429.7L2011.1 428.7L2012.9 427.6L2014.6 426.6L2016.4 425.6L2018.1 424.5L2019.8 423.4L2021.4 422.3L2023.1 421.2L2024.7 420.1L2026.3 418.9L2027.9 417.7L2029.4 416.5L2030.9 415.2L2032.4 413.9L2033.9 412.6L2035.3 411.2L2036.8 409.8L2038.2 408.4L2039.6 407.0L2041.0 405.5L2042.4 404.1L2043.8 402.6L2045.2 401.1L2046.5 399.6L2047.9 398.1L2049.3 396.7L2050.6 395.2L2052.0 393.7L2053.4 392.3L2054.8 390.8L2056.1 389.3L2057.4 387.7L2058.7 386.2L2060.0 384.6L2061.3 383.1L2062.7 381.6L2064.1 380.2L2065.5 378.8L2066.9 377.5L2068.5 376.2L2070.1 374.9L2071.7 373.7L2073.4 372.7L2075.2 371.9L2077.1 371.3L2079.1 370.9L2081.1 370.9L2083.1 371.4L2085.0 372.1L2086.6 373.0L2088.2 374.3L2089.6 375.9L2090.8 377.5L2091.9 379.1L2093.0 380.8L2094.1 382.5L2095.0 384.3L2096.0 386.1L2096.8 387.9L2097.6 389.8L2098.3 391.7L2099.0 393.5L2099.6 395.4L2100.1 397.3L2100.6 399.2L2101.1 401.2L2101.6 403.1L2102.1 405.1L2102.5 407.0L2102.9 409.0L2103.3 411.0L2103.7 413.0L2104.0 415.0L2104.4 417.0L2104.8 418.9L2105.1 420.9L2105.5 422.9L2105.8 424.8L2106.1 426.8L2106.5 428.8L2106.8 430.8L2107.1 432.7L2107.4 434.7L2107.7 436.7L2108.0 438.7L2108.3 440.7L2108.5 442.7L2108.8 444.6L2109.1 446.6L2109.3 448.6L2109.6 450.6L2109.8 452.6L2110.1 454.6L2110.3 456.6L2110.5 458.6L2110.7 460.5L2110.9 462.5L2111.1 464.5L2111.4 466.5L2111.5 468.5L2111.7 470.5L2111.9 472.5L2112.1 474.5L2112.3 476.5L2112.5 478.5L2112.7 480.5L2112.9 482.5L2113.0 484.5L2113.2 486.5L2113.4 488.5L2113.6 490.4L2113.8 492.4L2114.0 494.4L2114.2 496.4L2114.4 498.4L2114.6 500.4L2114.8 502.4L2115.0 504.4L2115.2 506.4L2115.4 508.4L2115.7 510.4L2115.9 512.4L2116.1 514.3L2116.3 516.3L2116.5 518.3L2116.7 520.3L2116.9 522.3L2117.1 524.3L2117.4 526.3L2117.6 528.3L2117.8 530.3L2118.0 532.3L2118.2 534.3L2118.4 536.2L2118.6 538.2L2118.8 540.2L2119.0 542.2L2119.2 544.2L2119.4 546.2L2119.6 548.2L2119.8 550.2L2120.0 552.2L2120.2 554.2L2120.4 556.2L2120.6 558.2L2120.7 560.2L2120.9 562.2L2121.1 564.1L2121.4 566.1L2121.6 568.1L2121.8 570.1L2122.0 572.1L2122.3 574.1L2122.5 576.1L2122.8 578.1L2123.0 580.0L2123.3 582.0L2123.6 584.0L2123.9 586.0L2124.2 588.0L2124.5 590.0L2124.8 591.9L2125.0 593.9L2125.3 595.9L2125.6 597.9L2125.8 599.9L2126.1 601.9L2126.3 603.9L2126.5 605.8L2126.7 607.8L2126.9 609.8L2127.1 611.8L2127.3 613.8L2127.5 615.8L2127.7 617.8L2127.9 619.8L2128.1 621.8L2128.3 623.8L2128.5 625.8L2128.7 627.8L2128.9 629.8L2129.0 631.8L2129.2 633.7L2129.4 635.7L2129.6 637.7L2129.8 639.7L2130.0 641.7L2130.2 643.7L2130.4 645.7L2130.6 647.7L2130.8 649.7L2131.0 651.7L2131.2 653.7L2131.4 655.7L2131.6 657.7L2131.8 659.7L2132.0 661.6L2132.2 663.6L2132.4 665.6L2132.5 667.6L2132.7 669.6L2133.0 671.6L2133.2 673.6L2133.4 675.6L2133.6 677.6L2133.8 679.6L2134.0 681.6L2134.2 683.6L2134.4 685.5L2134.7 687.5L2134.9 689.5L2135.1 691.5L2135.4 693.5L2135.7 695.5L2135.9 697.5L2136.2 699.5L2136.5 701.4L2136.7 703.4L2137.0 705.4L2137.3 707.4L2137.5 709.4L2137.8 711.4L2138.0 713.4L2138.3 715.3L2138.5 717.3L2138.7 719.3L2139.0 721.3L2139.2 723.3L2139.4 725.3L2139.5 727.3L2139.7 729.3L2139.8 731.3L2140.0 733.3L2140.1 735.3L2140.3 737.3L2140.4 739.3L2140.5 741.3L2140.6 743.3L2140.8 745.3L2140.9 747.3L2141.0 749.3L2141.1 751.3L2141.2 753.3L2141.3 755.3L2141.4 757.3L2141.6 759.3L2141.7 761.3L2141.8 763.3L2142.0 765.3L2142.1 767.2L2142.2 769.2L2142.4 771.2L2142.5 773.2L2142.7 775.2L2142.9 777.2L2143.0 779.2L2143.2 781.2L2143.4 783.2L2143.5 785.2L2143.7 787.2L2144.0 789.2L2144.2 791.2L2144.4 793.2L2144.7 795.1L2145.0 797.1L2145.4 799.1L2145.9 801.0L2146.3 803.0L2146.8 804.9L2147.3 806.8L2147.9 808.8L2148.4 810.7L2148.9 812.7L2149.4 814.6L2149.9 816.6L2150.4 818.5L2150.8 820.5L2151.1 822.4L2151.5 824.4L2151.8 826.4L2152.1 828.4L2152.4 830.4L2152.7 832.4L2153.0 834.3L2153.3 836.3L2153.6 838.3L2153.9 840.3L2154.3 842.2L2154.7 844.2L2155.2 846.2L2155.6 848.2L2156.1 850.2L2156.7 852.2L2157.4 854.0L2158.1 855.7L2159.4 857.5L2160.9 858.6L2162.2 857.9L2163.5 856.2L2164.7 854.1L2165.5 852.1L2166.1 850.3L2166.7 848.4L2167.1 846.5L2167.5 844.6L2167.9 842.6L2168.2 840.6L2168.5 838.5L2168.9 836.5L2169.2 834.5L2169.6 832.5L2170.0 830.5L2170.4 828.5L2170.8 826.6L2171.3 824.6L2171.7 822.7L2172.2 820.7L2172.6 818.8L2173.1 816.8L2173.6 814.9L2174.0 812.9L2174.5 811.0L2174.9 809.0L2175.4 807.1L2175.8 805.1L2176.2 803.2L2176.7 801.2L2177.1 799.3L2177.5 797.3L2178.0 795.4L2178.4 793.4L2178.8 791.5L2179.2 789.5L2179.7 787.5L2180.1 785.6L2180.5 783.6L2180.9 781.7L2181.3 779.7L2181.6 777.7L2182.0 775.8L2182.4 773.8L2182.7 771.8L2183.1 769.8L2183.5 767.9L2183.8 765.9L2184.2 763.9L2184.6 762.0L2184.9 760.0L2185.3 758.0L2185.7 756.1L2186.1 754.1L2186.4 752.1L2186.8 750.2L2187.2 748.2L2187.6 746.2L2188.0 744.3L2188.4 742.3L2188.8 740.3L2189.2 738.4L2189.6 736.4L2190.0 734.5L2190.4 732.5L2190.8 730.5L2191.2 728.6L2191.7 726.6L2192.1 724.7L2192.4 722.7L2192.8 720.7L2193.2 718.8L2193.5 716.8L2193.9 714.8L2194.2 712.8L2194.5 710.9L2194.8 708.9L2195.1 706.9L2195.3 704.9L2195.5 702.9L2195.8 700.9L2196.0 699.0L2196.2 697.0L2196.4 695.0L2196.6 693.0L2196.8 691.0L2197.0 689.0L2197.2 687.0L2197.4 685.0L2197.6 683.0L2197.9 681.0L2198.1 679.0L2198.4 677.1L2198.7 675.1L2199.0 673.1L2199.3 671.1L2199.7 669.2L2200.1 667.2L2200.5 665.2L2200.9 663.3L2201.3 661.3L2201.8 659.4L2202.2 657.4L2202.7 655.5L2203.1 653.5L2203.6 651.5L2204.0 649.6L2204.4 647.6L2204.8 645.7L2205.3 643.7L2205.7 641.8L2206.1 639.8L2206.6 637.8L2207.0 635.9L2207.4 633.9L2207.9 632.0L2208.3 630.0L2208.8 628.1L2209.3 626.1L2209.7 624.2L2210.2 622.2L2210.7 620.3L2211.3 618.4L2211.8 616.5L2212.3 614.5L2212.9 612.6L2213.6 610.7L2214.2 608.8L2214.9 607.0L2215.6 605.1L2216.3 603.2L2216.9 601.3L2217.5 599.4L2218.0 597.4L2218.5 595.5L2219.0 593.5L2219.5 591.6L2219.9 589.6L2220.4 587.6L2220.8 585.6L2221.3 583.6L2221.7 581.7L2222.2 579.7L2222.7 577.8L2223.2 575.9L2223.8 574.0L2224.4 572.1L2225.0 570.3L2225.8 568.5L2226.6 566.7L2227.4 564.9L2228.4 563.1L2229.4 561.4L2230.5 559.7L2231.6 557.9L2232.7 556.3L2233.9 554.6L2235.1 553.0L2236.3 551.3L2237.5 549.7L2238.7 548.2L2239.9 546.6L2241.2 545.1L2242.6 543.5L2244.0 542.1L2245.4 540.7L2246.9 539.3L2248.4 538.1L2250.0 536.9L2251.6 535.8L2253.3 534.7L2255.0 533.6L2256.7 532.5L2258.4 531.4L2260.1 530.3L2261.7 529.1L2263.2 527.8L2264.8 526.4L2266.3 525.0L2267.8 523.7L2269.4 522.5L2271.0 521.4L2272.7 520.6L2274.5 519.8L2276.4 519.1L2278.3 518.4L2280.2 517.8L2282.1 517.2L2284.1 516.7L2286.1 516.1L2288.0 515.6L2289.9 515.1L2291.9 514.5L2293.8 514.0L2295.7 513.5L2297.7 513.0L2299.6 512.5L2301.6 512.0L2303.5 511.6L2305.5 511.1L2307.4 510.7L2309.4 510.3L2311.3 509.8L2313.3 509.4L2315.2 508.9L2317.2 508.4L2319.2 508.0L2321.1 507.5L2323.1 507.1L2325.0 506.8L2327.0 506.4L2329.0 506.1L2331.0 505.9L2332.9 505.7L2334.9 505.6L2336.9 505.4L2338.9 505.2L2340.9 505.1L2342.9 504.9L2344.9 504.8L2346.9 504.7L2348.9 504.6L2350.9 504.4L2352.9 504.3L2354.9 504.2L2356.9 504.1L2358.9 504.0L2360.9 503.9L2362.9 503.9L2364.9 503.8L2366.9 503.7L2368.9 503.6L2370.9 503.6L2372.9 503.5L2374.9 503.5L2376.9 503.4L2378.9 503.4L2380.9 503.3L2382.9 503.3L2384.9 503.2L2387.0 503.2L2389.0 503.1L2391.0 503.1L2393.0 503.0L2395.0 503.0L2397.0 503.0L2399.0 502.9L2401.0 502.9L2403.0 502.8L2405.0 502.8L2407.0 502.8L2409.0 502.8L2411.0 502.7L2413.0 502.7L2415.0 502.7L2417.0 502.7L2419.0 502.6L2421.0 502.6L2423.0 502.6L2425.0 502.6L2427.0 502.6L2429.0 502.6" fill="none" stroke="#00ff00" stroke-width="5.9" stroke-linejoin="round" stroke-linecap="butt"/>
<g fill="none" stroke="#4a4a4a" stroke-width="1.45"><circle cx="1267.6" cy="478.6" r="8.0"/><circle cx="1279.0" cy="479.0" r="8.0"/><circle cx="1289.5" cy="478.2" r="8.0"/><circle cx="1299.8" cy="477.5" r="8.0"/><circle cx="1309.2" cy="474.4" r="8.0"/><circle cx="1319.6" cy="471.3" r="8.0"/><circle cx="1330.0" cy="467.2" r="8.0"/><circle cx="1340.3" cy="456.8" r="8.0"/><circle cx="1350.7" cy="451.6" r="8.0"/><circle cx="1361.0" cy="446.4" r="8.0"/><circle cx="1372.5" cy="448.5" r="8.0"/><circle cx="1382.9" cy="437.0" r="8.0"/><circle cx="1393.3" cy="443.3" r="8.0"/><circle cx="1403.7" cy="436.0" r="8.0"/><circle cx="1412.0" cy="433.9" r="8.0"/><circle cx="1422.3" cy="428.7" r="8.0"/><circle cx="1433.8" cy="419.4" r="8.0"/><circle cx="1444.1" cy="408.0" r="8.0"/><circle cx="1454.5" cy="397.6" r="8.0"/><circle cx="1463.9" cy="393.4" r="8.0"/><circle cx="1475.3" cy="388.2" r="8.0"/><circle cx="1485.7" cy="388.2" r="8.0"/><circle cx="1496.0" cy="385.1" r="8.0"/><circle cx="1506.4" cy="376.8" r="8.0"/><circle cx="1516.8" cy="366.4" r="8.0"/><circle cx="1527.2" cy="362.3" r="8.0"/><circle cx="1535.5" cy="348.8" r="8.0"/><circle cx="1545.9" cy="334.3" r="8.0"/><circle cx="1556.3" cy="334.3" r="8.0"/><circle cx="1567.0" cy="323.8" r="8.0"/><circle cx="1580.1" cy="328.0" r="8.0"/><circle cx="1591.8" cy="316.4" r="8.0"/><circle cx="1601.0" cy="302.0" r="8.0"/><circle cx="1609.8" cy="283.1" r="8.0"/><circle cx="1621.3" cy="260.3" r="8.0"/><circle cx="1629.6" cy="241.6" r="8.0"/><circle cx="1641.0" cy="226.0" r="8.0"/><circle cx="1651.4" cy="216.7" r="8.0"/><circle cx="1661.7" cy="209.4" r="8.0"/><circle cx="1672.1" cy="200.0" r="8.0"/><circle cx="1682.5" cy="192.8" r="8.0"/><circle cx="1692.9" cy="181.4" r="8.0"/><circle cx="1702.2" cy="171.0" r="8.0"/><circle cx="1712.6" cy="161.6" r="8.0"/><circle cx="1723.0" cy="151.3" r="8.0"/><circle cx="1732.3" cy="141.9" r="8.0"/><circle cx="1742.7" cy="133.6" r="8.0"/><circle cx="1754.1" cy="129.5" r="8.0"/><circle cx="1764.5" cy="128.4" r="8.0"/><circle cx="1774.9" cy="127.4" r="8.0"/><circle cx="1785.3" cy="129.5" r="8.0"/><circle cx="1800.9" cy="131.5" r="8.0"/><circle cx="1810.2" cy="142.9" r="8.0"/><circle cx="1820.6" cy="159.6" r="8.0"/><circle cx="1829.9" cy="181.4" r="8.0"/><circle cx="1840.3" cy="208.4" r="8.0"/><circle cx="1851.7" cy="239.5" r="8.0"/><circle cx="1861.1" cy="275.8" r="8.0"/><circle cx="1872.5" cy="313.2" r="8.0"/><circle cx="1880.5" cy="352.2" r="8.0"/><circle cx="1890.2" cy="393.7" r="8.0"/><circle cx="1899.7" cy="437.3" r="8.0"/><circle cx="1912.2" cy="474.7" r="8.0"/><circle cx="1922.6" cy="509.0" r="8.0"/><circle cx="1932.8" cy="544.7" r="8.0"/><circle cx="1941.3" cy="573.2" r="8.0"/><circle cx="1951.6" cy="599.2" r="8.0"/><circle cx="1962.0" cy="620.0" r="8.0"/><circle cx="1973.4" cy="634.5" r="8.0"/><circle cx="1982.8" cy="651.1" r="8.0"/><circle cx="1993.2" cy="661.5" r="8.0"/><circle cx="2002.5" cy="669.8" r="8.0"/><circle cx="2012.9" cy="679.1" r="8.0"/><circle cx="2025.3" cy="694.7" r="8.0"/><circle cx="2035.7" cy="704.0" r="8.0"/><circle cx="2046.1" cy="713.4" r="8.0"/><circle cx="2055.5" cy="730.0" r="8.0"/><circle cx="2065.8" cy="749.7" r="8.0"/><circle cx="2075.6" cy="776.5" r="8.0"/><circle cx="2086.0" cy="806.5" r="8.0"/><circle cx="2097.0" cy="854.0" r="8.0"/><circle cx="2107.6" cy="914.7" r="8.0"/><circle cx="2116.2" cy="993.2" r="8.0"/><circle cx="2126.8" cy="1096.7" r="8.0"/><circle cx="2140.1" cy="1194.4" r="8.0"/><circle cx="2150.9" cy="1254.7" r="8.0"/><circle cx="2158.7" cy="1267.4" r="8.0"/><circle cx="2168.4" cy="1213.2" r="8.0"/><circle cx="2178.8" cy="1117.3" r="8.0"/><circle cx="2190.5" cy="998.3" r="8.0"/><circle cx="2199.6" cy="892.7" r="8.0"/><circle cx="2210.6" cy="798.3" r="8.0"/><circle cx="2220.5" cy="733.1" r="8.0"/><circle cx="2229.9" cy="668.7" r="8.0"/><circle cx="2240.3" cy="628.2" r="8.0"/><circle cx="2254.2" cy="597.6" r="8.0"/><circle cx="2262.6" cy="579.3" r="8.0"/><circle cx="2272.9" cy="559.8" r="8.0"/><circle cx="2282.0" cy="545.3" r="8.0"/><circle cx="2293.4" cy="535.0" r="8.0"/><circle cx="2303.1" cy="531.8" r="8.0"/><circle cx="2313.9" cy="525.3" r="8.0"/><circle cx="2324.7" cy="519.9" r="8.0"/><circle cx="2333.3" cy="512.3" r="8.0"/><circle cx="2343.0" cy="511.3" r="8.0"/><circle cx="2354.9" cy="499.0" r="8.0"/><circle cx="2365.7" cy="505.9" r="8.0"/><circle cx="2376.0" cy="497.5" r="8.0"/><circle cx="2386.2" cy="503.7" r="8.0"/><circle cx="2396.5" cy="497.0" r="8.0"/><circle cx="2406.7" cy="501.5" r="8.0"/><circle cx="2417.0" cy="496.5" r="8.0"/></g>
<path d="M1259.0 488.0L1261.0 487.9L1263.0 487.7L1265.0 487.6L1267.0 487.5L1269.0 487.3L1271.0 487.2L1273.0 487.0L1275.0 486.8L1277.0 486.6L1279.0 486.5L1281.0 486.3L1283.0 486.1L1285.0 485.9L1287.0 485.7L1289.0 485.5L1291.0 485.3L1292.9 485.0L1294.9 484.8L1296.9 484.6L1298.9 484.3L1300.9 484.1L1302.9 483.9L1304.9 483.6L1306.9 483.4L1308.8 483.1L1310.8 482.9L1312.8 482.6L1314.8 482.4L1316.8 482.1L1318.8 481.8L1320.7 481.5L1322.7 481.2L1324.7 480.9L1326.7 480.6L1328.7 480.3L1330.6 480.0L1332.6 479.6L1334.6 479.3L1336.6 478.9L1338.5 478.6L1340.5 478.2L1342.5 477.8L1344.4 477.4L1346.4 477.0L1348.4 476.6L1350.3 476.2L1352.3 475.8L1354.2 475.4L1356.2 475.0L1358.1 474.5L1360.1 474.1L1362.0 473.6L1364.0 473.1L1365.9 472.7L1367.9 472.1L1369.8 471.6L1371.8 471.1L1373.7 470.6L1375.6 470.0L1377.6 469.5L1379.5 468.9L1381.4 468.4L1383.3 467.8L1385.2 467.2L1387.2 466.6L1389.1 466.0L1391.0 465.4L1392.9 464.8L1394.8 464.2L1396.7 463.5L1398.6 462.9L1400.5 462.3L1402.3 461.6L1404.2 460.9L1406.1 460.2L1408.0 459.5L1409.9 458.8L1411.7 458.1L1413.6 457.3L1415.5 456.6L1417.3 455.9L1419.2 455.1L1421.0 454.3L1422.9 453.5L1424.7 452.8L1426.6 452.0L1428.4 451.2L1430.2 450.4L1432.1 449.6L1433.9 448.7L1435.7 447.9L1437.6 447.1L1439.4 446.3L1441.2 445.4L1443.0 444.6L1444.8 443.7L1446.6 442.8L1448.4 441.9L1450.2 441.0L1451.9 440.0L1453.7 439.1L1455.5 438.1L1457.2 437.2L1459.0 436.2L1460.7 435.2L1462.5 434.2L1464.2 433.2L1465.9 432.2L1467.6 431.2L1469.3 430.1L1471.0 429.1L1472.8 428.0L1474.5 427.0L1476.2 425.9L1477.9 424.9L1479.6 423.9L1481.3 422.9L1483.1 421.8L1484.8 420.8L1486.5 419.8L1488.2 418.8L1490.0 417.8L1491.7 416.8L1493.4 415.7L1495.1 414.7L1496.8 413.6L1498.5 412.5L1500.2 411.5L1501.9 410.4L1503.5 409.3L1505.2 408.1L1506.8 407.0L1508.5 405.9L1510.1 404.7L1511.8 403.6L1513.4 402.4L1515.0 401.2L1516.7 400.1L1518.3 398.9L1519.9 397.7L1521.5 396.5L1523.1 395.3L1524.7 394.1L1526.2 392.8L1527.8 391.6L1529.4 390.3L1530.9 389.1L1532.5 387.8L1534.1 386.5L1535.6 385.3L1537.1 384.0L1538.7 382.7L1540.2 381.4L1541.7 380.1L1543.3 378.8L1544.8 377.5L1546.3 376.2L1547.8 374.9L1549.3 373.6L1550.8 372.2L1552.3 370.9L1553.8 369.5L1555.3 368.2L1556.7 366.8L1558.2 365.5L1559.6 364.1L1561.1 362.7L1562.5 361.3L1563.9 359.9L1565.3 358.5L1566.7 357.0L1568.1 355.6L1569.5 354.1L1570.9 352.7L1572.2 351.2L1573.6 349.7L1575.0 348.3L1576.3 346.8L1577.7 345.3L1579.0 343.9L1580.4 342.4L1581.8 340.9L1583.2 339.5L1584.5 338.0L1585.9 336.6L1587.3 335.1L1588.7 333.7L1590.1 332.2L1591.4 330.7L1592.8 329.3L1594.2 327.8L1595.6 326.4L1596.9 324.9L1598.3 323.5L1599.7 322.1L1601.1 320.6L1602.5 319.2L1603.9 317.8L1605.4 316.4L1606.8 315.0L1608.3 313.6L1609.7 312.2L1611.2 310.8L1612.6 309.4L1614.1 308.1L1615.5 306.7L1617.0 305.3L1618.4 303.9L1619.8 302.4L1621.1 301.0L1622.5 299.5L1623.8 298.0L1625.1 296.5L1626.3 294.9L1627.6 293.4L1628.8 291.8L1630.0 290.2L1631.3 288.6L1632.5 287.0L1633.7 285.4L1634.9 283.8L1636.0 282.2L1637.2 280.5L1638.4 278.9L1639.6 277.3L1640.8 275.7L1642.0 274.1L1643.2 272.5L1644.5 270.9L1645.7 269.3L1646.9 267.7L1648.1 266.1L1649.3 264.5L1650.5 262.9L1651.7 261.3L1652.9 259.7L1654.1 258.1L1655.4 256.6L1656.6 255.0L1657.8 253.4L1659.0 251.8L1660.2 250.2L1661.5 248.6L1662.7 247.1L1664.0 245.5L1665.2 243.9L1666.5 242.4L1667.8 240.9L1669.1 239.3L1670.4 237.8L1671.7 236.3L1673.0 234.8L1674.4 233.3L1675.7 231.8L1677.0 230.2L1678.3 228.7L1679.6 227.2L1680.8 225.6L1682.1 224.1L1683.3 222.5L1684.5 220.9L1685.7 219.3L1686.9 217.7L1688.0 216.0L1689.1 214.4L1690.2 212.7L1691.3 211.0L1692.4 209.3L1693.5 207.6L1694.5 205.9L1695.6 204.2L1696.7 202.5L1697.7 200.8L1698.8 199.1L1699.9 197.5L1701.0 195.8L1702.1 194.1L1703.3 192.5L1704.4 190.9L1705.6 189.3L1706.8 187.7L1708.1 186.1L1709.3 184.5L1710.5 182.9L1711.8 181.3L1713.0 179.8L1714.3 178.2L1715.6 176.7L1716.9 175.1L1718.2 173.6L1719.5 172.1L1720.8 170.6L1722.2 169.1L1723.5 167.6L1724.8 166.1L1726.2 164.7L1727.6 163.2L1728.9 161.8L1730.3 160.3L1731.7 158.8L1733.1 157.4L1734.5 155.9L1736.0 154.5L1737.4 153.1L1738.9 151.7L1740.3 150.3L1741.8 149.0L1743.4 147.7L1744.9 146.5L1746.5 145.3L1748.1 144.1L1749.7 142.9L1751.4 141.7L1753.1 140.6L1754.9 139.5L1756.6 138.5L1758.5 137.6L1760.3 137.0L1762.2 136.5L1764.1 136.2L1766.1 135.8L1768.1 135.5L1770.1 135.4L1772.1 135.3L1774.1 135.4L1776.2 135.7L1778.2 136.1L1780.2 136.6L1782.1 137.1L1783.9 137.7L1785.7 138.3L1787.3 139.2L1789.0 140.3L1790.6 141.6L1792.1 143.0L1793.7 144.5L1795.1 146.0L1796.5 147.6L1797.9 149.1L1799.1 150.6L1800.4 152.1L1801.6 153.7L1802.8 155.3L1803.9 156.9L1805.0 158.6L1806.1 160.3L1807.1 162.0L1808.2 163.8L1809.2 165.6L1810.2 167.3L1811.1 169.1L1812.1 170.9L1813.0 172.6L1814.0 174.4L1814.9 176.2L1815.8 177.9L1816.7 179.7L1817.6 181.5L1818.4 183.3L1819.3 185.2L1820.1 187.0L1820.9 188.8L1821.8 190.7L1822.6 192.5L1823.4 194.3L1824.2 196.2L1825.0 198.0L1825.7 199.9L1826.5 201.7L1827.3 203.5L1828.1 205.4L1828.8 207.2L1829.6 209.1L1830.4 211.0L1831.1 212.8L1831.8 214.7L1832.6 216.5L1833.3 218.4L1834.0 220.3L1834.8 222.1L1835.5 224.0L1836.2 225.9L1836.9 227.8L1837.6 229.6L1838.3 231.5L1839.0 233.4L1839.7 235.3L1840.4 237.1L1841.1 239.0L1841.8 240.9L1842.5 242.8L1843.2 244.6L1843.9 246.5L1844.6 248.4L1845.3 250.3L1846.0 252.2L1846.6 254.1L1847.3 256.0L1847.9 257.9L1848.6 259.8L1849.2 261.7L1849.8 263.6L1850.4 265.5L1851.0 267.4L1851.5 269.3L1852.1 271.2L1852.6 273.2L1853.1 275.1L1853.7 277.0L1854.2 279.0L1854.7 280.9L1855.2 282.8L1855.6 284.8L1856.1 286.7L1856.6 288.7L1857.1 290.6L1857.6 292.6L1858.2 294.5L1858.7 296.4L1859.2 298.4L1859.8 300.3L1860.3 302.2L1860.8 304.1L1861.4 306.1L1861.9 308.0L1862.5 309.9L1863.1 311.8L1863.6 313.8L1864.2 315.7L1864.7 317.6L1865.3 319.5L1865.9 321.5L1866.4 323.4L1867.0 325.3L1867.5 327.2L1868.1 329.1L1868.7 331.1L1869.2 333.0L1869.8 334.9L1870.4 336.8L1870.9 338.7L1871.5 340.7L1872.1 342.6L1872.6 344.5L1873.2 346.5L1873.7 348.4L1874.2 350.3L1874.7 352.3L1875.2 354.2L1875.7 356.1L1876.2 358.1L1876.6 360.0L1877.1 362.0L1877.6 363.9L1878.0 365.9L1878.5 367.8L1878.9 369.8L1879.4 371.7L1879.8 373.7L1880.3 375.6L1880.7 377.6L1881.2 379.5L1881.6 381.5L1882.0 383.4L1882.5 385.4L1882.9 387.4L1883.4 389.3L1883.8 391.3L1884.2 393.2L1884.6 395.2L1885.1 397.1L1885.5 399.1L1885.9 401.1L1886.3 403.0L1886.7 405.0L1887.1 406.9L1887.6 408.9L1888.0 410.8L1888.4 412.8L1888.9 414.8L1889.3 416.7L1889.8 418.7L1890.2 420.6L1890.7 422.6L1891.2 424.5L1891.6 426.4L1892.1 428.4L1892.6 430.3L1893.1 432.3L1893.6 434.2L1894.1 436.2L1894.6 438.1L1895.1 440.0L1895.6 442.0L1896.1 443.9L1896.6 445.9L1897.1 447.8L1897.6 449.7L1898.0 451.7L1898.5 453.6L1899.0 455.6L1899.5 457.5L1900.0 459.5L1900.4 461.4L1900.9 463.4L1901.4 465.3L1901.9 467.2L1902.4 469.2L1902.8 471.1L1903.3 473.1L1903.8 475.0L1904.3 477.0L1904.8 478.9L1905.3 480.9L1905.7 482.8L1906.2 484.7L1906.7 486.7L1907.1 488.6L1907.6 490.6L1908.1 492.5L1908.6 494.5L1909.1 496.4L1909.5 498.4L1910.0 500.3L1910.5 502.2L1911.1 504.2L1911.6 506.1L1912.1 508.0L1912.7 510.0L1913.2 511.9L1913.8 513.8L1914.4 515.7L1915.0 517.6L1915.6 519.5L1916.2 521.4L1916.8 523.4L1917.4 525.3L1918.0 527.2L1918.6 529.1L1919.2 531.0L1919.8 532.9L1920.4 534.8L1921.0 536.7L1921.6 538.7L1922.1 540.6L1922.7 542.5L1923.3 544.4L1923.9 546.3L1924.5 548.2L1925.0 550.2L1925.6 552.1L1926.2 554.0L1926.7 555.9L1927.2 557.9L1927.8 559.8L1928.3 561.7L1928.8 563.7L1929.2 565.6L1929.7 567.6L1930.1 569.5L1930.6 571.5L1931.0 573.5L1931.4 575.4L1931.9 577.4L1932.3 579.4L1932.7 581.3L1933.2 583.3L1933.6 585.2L1934.1 587.2L1934.5 589.1L1935.0 591.1L1935.5 593.0L1936.0 595.0L1936.5 596.9L1937.0 598.8L1937.6 600.7L1938.2 602.6L1938.8 604.5L1939.5 606.4L1940.2 608.2L1941.0 610.1L1941.7 611.9L1942.5 613.8L1943.4 615.6L1944.2 617.4L1945.0 619.3L1945.8 621.1L1946.7 622.9L1947.5 624.8L1948.3 626.6L1949.0 628.5L1949.8 630.3L1950.5 632.2L1951.3 634.1L1952.0 635.9L1952.7 637.8L1953.4 639.7L1954.2 641.6L1954.9 643.4L1955.7 645.3L1956.5 647.1L1957.3 648.9L1958.2 650.7L1959.1 652.5L1960.1 654.2L1961.1 655.9L1962.1 657.6L1963.3 659.3L1964.4 661.0L1965.5 662.6L1966.6 664.3L1967.7 666.0L1968.7 667.7L1969.7 669.5L1970.7 671.2L1971.6 673.0L1972.5 674.8L1973.3 676.6L1974.2 678.4L1975.1 680.2L1975.9 682.0L1976.8 683.8L1977.7 685.6L1978.6 687.4L1979.5 689.2L1980.5 690.9L1981.5 692.7L1982.5 694.4L1983.5 696.1L1984.5 697.9L1985.6 699.6L1986.6 701.3L1987.6 703.0L1988.7 704.7L1989.7 706.4L1990.8 708.1L1991.8 709.8L1992.9 711.6L1993.9 713.3L1994.9 715.0L1996.0 716.7L1997.0 718.4L1998.0 720.1L1999.1 721.8L2000.1 723.6L2001.1 725.3L2002.2 727.0L2003.2 728.7L2004.2 730.4L2005.3 732.1L2006.3 733.9L2007.3 735.6L2008.3 737.3L2009.3 739.0L2010.3 740.8L2011.3 742.5L2012.4 744.2L2013.4 746.0L2014.4 747.7L2015.5 749.4L2016.5 751.1L2017.6 752.7L2018.8 754.4L2019.9 756.0L2021.1 757.7L2022.3 759.3L2023.5 760.9L2024.7 762.6L2025.8 764.2L2026.8 765.9L2027.7 767.6L2028.6 769.4L2029.5 771.2L2030.3 773.0L2031.1 774.9L2031.9 776.7L2032.6 778.6L2033.3 780.4L2034.0 782.3L2034.8 784.2L2035.5 786.1L2036.2 788.0L2036.9 789.9L2037.7 791.7L2038.4 793.6L2039.2 795.4L2040.0 797.3L2040.7 799.1L2041.5 801.0L2042.2 802.9L2043.0 804.7L2043.7 806.6L2044.5 808.4L2045.3 810.3L2046.1 812.1L2046.9 814.0L2047.8 815.8L2048.6 817.6L2049.5 819.3L2050.5 821.1L2051.7 822.8L2052.9 824.4L2053.9 826.1L2054.8 827.9L2055.4 829.7L2056.0 831.6L2056.4 833.5L2056.8 835.5L2057.2 837.5L2057.6 839.5L2057.9 841.5L2058.3 843.5L2058.7 845.5L2059.2 847.4L2059.7 849.3L2060.4 851.2L2061.1 853.1L2061.8 854.9L2062.6 856.7L2063.5 858.6L2064.3 860.4L2065.1 862.2L2066.0 864.1L2066.7 865.9L2067.5 867.8L2068.2 869.7L2068.9 871.6L2069.5 873.5L2070.1 875.4L2070.8 877.3L2071.4 879.2L2072.0 881.1L2072.6 883.0L2073.2 884.9L2073.8 886.8L2074.5 888.7L2075.1 890.6L2075.8 892.5L2076.5 894.3L2077.2 896.2L2077.9 898.1L2078.7 899.9L2079.4 901.8L2080.2 903.7L2080.9 905.5L2081.6 907.4L2082.3 909.3L2083.0 911.1L2083.7 913.0L2084.4 914.9L2085.1 916.8L2085.7 918.7L2086.3 920.6L2086.9 922.5L2087.5 924.4L2088.2 926.3L2088.8 928.2L2089.5 930.1L2090.2 932.0L2090.9 933.9L2091.6 935.7L2092.3 937.6L2093.0 939.5L2093.8 941.4L2094.5 943.2L2095.3 945.1L2096.1 946.9L2096.9 948.7L2097.8 950.5L2098.7 952.3L2099.6 954.1L2100.5 955.9L2101.5 957.7L2102.4 959.5L2103.5 961.3L2104.6 963.0L2105.7 964.6L2106.9 966.2L2108.2 967.6L2109.6 969.1L2111.1 970.7L2112.7 972.3L2114.4 973.7L2116.1 974.7L2117.8 975.4L2119.5 975.5L2121.3 975.1L2123.1 974.3L2125.0 973.2L2126.8 972.1L2128.6 970.9L2130.3 969.8L2132.0 968.7L2133.7 967.5L2135.5 966.3L2137.1 965.0L2138.5 963.6L2139.7 962.2L2140.6 960.6L2141.3 958.8L2141.9 956.9L2142.5 954.9L2143.1 952.9L2143.7 950.9L2144.5 949.0L2145.4 947.3L2146.4 945.5L2147.5 943.8L2148.6 942.1L2149.7 940.4L2150.7 938.7L2151.5 936.9L2152.2 935.1L2152.9 933.2L2153.5 931.3L2154.1 929.4L2154.6 927.5L2155.1 925.5L2155.6 923.5L2156.1 921.6L2156.5 919.6L2157.0 917.6L2157.4 915.7L2157.8 913.7L2158.1 911.7L2158.4 909.7L2158.7 907.7L2158.9 905.7L2159.2 903.7L2159.5 901.7L2159.7 899.7L2160.0 897.7L2160.3 895.7L2160.7 893.8L2161.1 891.8L2161.5 889.9L2162.0 888.1L2162.7 886.2L2163.7 884.5L2164.8 882.7L2165.9 880.9L2166.9 879.2L2167.7 877.4L2168.3 875.5L2168.7 873.6L2169.1 871.7L2169.4 869.7L2169.7 867.8L2170.0 865.8L2170.3 863.8L2170.5 861.7L2170.8 859.7L2171.0 857.7L2171.3 855.7L2171.6 853.7L2172.0 851.8L2172.4 849.8L2172.8 847.8L2173.2 845.9L2173.6 843.9L2174.1 842.0L2174.5 840.0L2175.0 838.1L2175.5 836.1L2176.0 834.2L2176.4 832.2L2176.9 830.3L2177.4 828.3L2177.9 826.4L2178.4 824.5L2178.9 822.5L2179.4 820.6L2179.9 818.6L2180.4 816.7L2180.9 814.8L2181.4 812.8L2181.9 810.9L2182.4 808.9L2182.9 807.0L2183.4 805.1L2183.9 803.1L2184.5 801.2L2185.0 799.3L2185.5 797.3L2186.0 795.4L2186.6 793.5L2187.1 791.5L2187.6 789.6L2188.2 787.7L2188.7 785.8L2189.3 783.8L2189.8 781.9L2190.4 780.0L2190.9 778.1L2191.5 776.1L2192.0 774.2L2192.4 772.2L2192.9 770.3L2193.4 768.3L2193.8 766.4L2194.2 764.4L2194.7 762.5L2195.1 760.5L2195.5 758.6L2195.9 756.6L2196.3 754.6L2196.7 752.7L2197.1 750.7L2197.5 748.7L2197.9 746.8L2198.3 744.8L2198.6 742.8L2199.0 740.9L2199.4 738.9L2199.7 736.9L2200.1 735.0L2200.5 733.0L2200.8 731.0L2201.2 729.1L2201.6 727.1L2202.0 725.1L2202.4 723.2L2202.8 721.2L2203.2 719.2L2203.6 717.3L2204.0 715.3L2204.5 713.4L2204.9 711.4L2205.4 709.5L2205.8 707.5L2206.3 705.6L2206.8 703.6L2207.2 701.7L2207.7 699.7L2208.2 697.8L2208.6 695.8L2209.1 693.9L2209.5 691.9L2210.0 690.0L2210.4 688.0L2210.9 686.1L2211.3 684.1L2211.7 682.2L2212.2 680.2L2212.6 678.3L2213.0 676.3L2213.4 674.3L2213.9 672.4L2214.3 670.4L2214.7 668.5L2215.2 666.5L2215.6 664.6L2216.0 662.6L2216.5 660.6L2216.9 658.7L2217.4 656.7L2217.8 654.8L2218.3 652.9L2218.8 650.9L2219.3 649.0L2219.7 647.0L2220.2 645.1L2220.7 643.1L2221.2 641.2L2221.7 639.2L2222.2 637.3L2222.7 635.3L2223.2 633.4L2223.7 631.4L2224.2 629.5L2224.7 627.5L2225.3 625.6L2225.9 623.7L2226.4 621.8L2227.0 619.9L2227.7 618.0L2228.3 616.1L2229.0 614.2L2229.7 612.4L2230.5 610.6L2231.4 608.8L2232.3 607.0L2233.2 605.2L2234.1 603.4L2234.9 601.5L2235.6 599.7L2236.3 597.8L2236.9 595.9L2237.5 594.0L2238.1 592.0L2238.6 590.1L2239.1 588.1L2239.6 586.2L2240.2 584.2L2240.7 582.3L2241.2 580.3L2241.8 578.4L2242.3 576.5L2242.9 574.6L2243.6 572.7L2244.3 570.9L2245.0 569.1L2245.9 567.3L2246.8 565.5L2247.8 563.8L2248.8 562.1L2249.9 560.4L2251.0 558.7L2252.1 557.0L2253.2 555.3L2254.2 553.5L2255.3 551.8L2256.2 550.1L2257.2 548.3L2258.1 546.5L2259.0 544.7L2259.9 542.9L2260.8 541.1L2261.7 539.3L2262.7 537.6L2263.7 535.9L2264.7 534.2L2265.8 532.5L2266.9 530.8L2268.0 529.1L2269.2 527.4L2270.4 525.8L2271.6 524.2L2272.8 522.6L2274.1 521.1L2275.4 519.6L2276.8 518.1L2278.2 516.7L2279.6 515.4L2281.2 514.1L2282.7 512.8L2284.3 511.6L2286.0 510.4L2287.7 509.3L2289.3 508.3L2291.1 507.3L2292.9 506.4L2294.7 505.5L2296.5 504.7L2298.4 503.9L2300.2 503.1L2302.1 502.3L2303.9 501.6L2305.8 500.9L2307.7 500.1L2309.6 499.4L2311.4 498.7L2313.3 498.0L2315.3 497.4L2317.2 496.9L2319.1 496.4L2321.1 496.0L2323.0 495.6L2325.0 495.3L2326.9 494.9L2328.9 494.6L2330.9 494.3L2332.9 494.1L2334.9 493.8L2336.9 493.6L2338.9 493.4L2340.9 493.3L2342.9 493.1L2344.9 493.0L2346.9 492.9L2348.9 492.8L2350.9 492.7L2352.9 492.6L2354.9 492.5L2356.9 492.4L2358.9 492.3L2360.9 492.2L2362.9 492.2L2364.9 492.1L2366.9 492.1L2368.9 492.0L2370.9 492.0L2372.9 491.9L2374.9 491.9L2376.9 491.9L2378.9 491.8L2380.9 491.8L2382.9 491.8L2384.9 491.7L2386.9 491.7L2388.9 491.7L2390.9 491.7L2392.9 491.6L2394.9 491.6L2397.0 491.6L2399.0 491.6L2401.0 491.5L2403.0 491.5L2405.0 491.5L2407.0 491.5L2409.0 491.5L2411.0 491.5L2413.0 491.5L2415.0 491.4L2417.0 491.4L2419.0 491.4L2421.0 491.4L2423.0 491.4L2425.0 491.4L2427.0 491.4L2429.0 491.4" fill="none" stroke="#0000ff" stroke-width="6.0" stroke-linejoin="round" stroke-linecap="butt"/>
<path d="M1259.0 485.9L1261.0 485.9L1263.1 485.9L1265.1 485.8L1267.1 485.7L1269.1 485.6L1271.1 485.5L1273.1 485.4L1275.1 485.3L1277.1 485.1L1279.1 485.0L1281.1 484.8L1283.1 484.6L1285.1 484.5L1287.0 484.3L1289.0 484.1L1291.0 483.9L1292.9 483.6L1294.9 483.4L1296.9 483.0L1298.8 482.6L1300.8 482.2L1302.8 481.7L1304.7 481.2L1306.7 480.7L1308.6 480.1L1310.5 479.6L1312.5 478.9L1314.4 478.3L1316.3 477.7L1318.2 477.0L1320.1 476.4L1322.0 475.7L1323.9 475.1L1325.7 474.4L1327.6 473.7L1329.5 472.9L1331.3 472.2L1333.2 471.4L1335.0 470.5L1336.9 469.6L1338.6 468.7L1340.4 467.8L1342.1 466.8L1343.8 465.8L1345.5 464.8L1347.1 463.6L1348.7 462.4L1350.3 461.1L1351.8 459.9L1353.4 458.5L1354.9 457.2L1356.5 455.9L1358.0 454.7L1359.6 453.3L1361.1 451.8L1362.6 450.3L1364.1 448.9L1365.7 447.7L1367.3 446.8L1369.0 446.2L1370.9 445.8L1372.8 445.5L1374.8 445.1L1376.8 444.9L1378.9 444.6L1381.0 444.4L1383.0 444.3L1385.0 444.3L1387.0 444.3L1389.0 444.3L1391.1 444.3L1393.1 444.3L1395.1 444.3L1397.1 444.3L1399.1 444.3L1401.1 444.3L1403.1 444.3L1405.1 444.3L1407.0 444.2L1408.9 444.0L1410.9 443.6L1412.8 443.0L1414.7 442.2L1416.6 441.4L1418.5 440.5L1420.3 439.5L1422.1 438.5L1423.9 437.5L1425.6 436.5L1427.3 435.5L1429.0 434.5L1430.6 433.4L1432.2 432.2L1433.7 430.9L1435.2 429.6L1436.8 428.3L1438.3 426.9L1439.7 425.5L1441.2 424.1L1442.7 422.7L1444.2 421.3L1445.6 419.9L1447.1 418.6L1448.6 417.2L1450.0 415.8L1451.5 414.3L1452.9 412.8L1454.3 411.3L1455.7 409.8L1457.1 408.4L1458.6 407.1L1460.2 406.0L1461.8 404.9L1463.5 404.0L1465.3 403.1L1467.1 402.3L1469.0 401.5L1470.9 400.8L1472.8 400.2L1474.7 399.6L1476.7 399.1L1478.6 398.6L1480.6 398.2L1482.6 397.8L1484.6 397.5L1486.6 397.1L1488.5 396.7L1490.5 396.2L1492.4 395.7L1494.2 395.1L1496.1 394.4L1498.0 393.6L1499.8 392.8L1501.6 391.9L1503.4 390.9L1505.2 389.9L1506.9 388.9L1508.6 387.8L1510.2 386.8L1511.8 385.6L1513.4 384.4L1515.0 383.1L1516.5 381.8L1518.0 380.4L1519.4 379.0L1520.9 377.6L1522.3 376.1L1523.6 374.6L1524.9 373.1L1526.2 371.6L1527.4 370.0L1528.6 368.4L1529.8 366.8L1530.9 365.1L1532.0 363.4L1533.0 361.7L1534.1 360.0L1535.1 358.3L1536.2 356.5L1537.2 354.8L1538.2 353.1L1539.1 351.3L1540.1 349.4L1541.0 347.7L1542.0 345.9L1543.0 344.2L1544.1 342.6L1545.3 341.0L1546.6 339.6L1548.0 338.1L1549.5 336.7L1551.0 335.4L1552.6 334.1L1554.2 332.9L1555.8 331.8L1557.5 330.7L1559.2 329.7L1560.9 328.7L1562.7 327.7L1564.5 326.8L1566.3 325.9L1568.1 324.9L1569.8 324.0L1571.6 322.9L1573.3 321.9L1575.0 320.9L1576.7 319.8L1578.4 318.8L1580.1 317.7L1581.8 316.6L1583.5 315.5L1585.1 314.4L1586.8 313.2L1588.3 312.0L1589.9 310.8L1591.5 309.5L1593.0 308.2L1594.5 306.9L1596.0 305.5L1597.5 304.1L1598.9 302.7L1600.3 301.2L1601.6 299.7L1602.8 298.2L1604.0 296.6L1605.1 295.0L1606.2 293.3L1607.2 291.6L1608.1 289.8L1609.1 288.0L1610.1 286.2L1611.1 284.5L1612.1 282.8L1613.1 281.0L1614.2 279.3L1615.2 277.6L1616.2 275.9L1617.3 274.2L1618.3 272.4L1619.3 270.7L1620.4 269.0L1621.4 267.3L1622.5 265.6L1623.5 263.9L1624.6 262.2L1625.7 260.5L1626.7 258.8L1627.8 257.1L1628.9 255.5L1630.0 253.8L1631.1 252.1L1632.2 250.4L1633.3 248.7L1634.4 247.0L1635.5 245.3L1636.7 243.7L1637.8 242.0L1639.0 240.4L1640.2 238.8L1641.4 237.3L1642.7 235.8L1644.0 234.3L1645.4 232.9L1646.7 231.4L1648.2 230.1L1649.6 228.7L1651.1 227.4L1652.7 226.0L1654.2 224.7L1655.7 223.4L1657.3 222.1L1658.8 220.8L1660.4 219.5L1661.9 218.3L1663.5 217.0L1665.0 215.7L1666.6 214.4L1668.2 213.2L1669.8 212.0L1671.4 210.8L1673.0 209.6L1674.7 208.4L1676.3 207.1L1677.9 205.9L1679.4 204.7L1680.9 203.4L1682.4 202.1L1683.9 200.7L1685.2 199.3L1686.6 197.9L1687.9 196.4L1689.2 194.9L1690.4 193.3L1691.6 191.8L1692.8 190.1L1694.0 188.5L1695.2 186.9L1696.3 185.2L1697.5 183.6L1698.7 181.9L1699.9 180.3L1701.0 178.6L1702.2 177.0L1703.5 175.4L1704.7 173.8L1706.0 172.3L1707.2 170.7L1708.5 169.2L1709.8 167.6L1711.0 166.1L1712.3 164.5L1713.6 163.0L1714.9 161.4L1716.2 159.9L1717.5 158.4L1718.8 156.9L1720.2 155.4L1721.5 153.9L1722.9 152.5L1724.3 151.0L1725.7 149.6L1727.1 148.2L1728.5 146.8L1730.0 145.5L1731.4 144.1L1732.9 142.7L1734.4 141.4L1735.9 140.0L1737.5 138.7L1739.0 137.4L1740.6 136.2L1742.2 134.9L1743.8 133.7L1745.4 132.6L1747.0 131.4L1748.6 130.3L1750.3 129.1L1752.0 127.9L1753.7 126.8L1755.5 125.8L1757.2 124.8L1759.0 124.0L1760.9 123.3L1762.7 122.9L1764.7 122.4L1766.7 121.9L1768.7 121.6L1770.7 121.3L1772.7 121.1L1774.7 121.1L1776.7 121.3L1778.7 121.6L1780.7 122.0L1782.7 122.5L1784.6 123.0L1786.5 123.7L1788.4 124.3L1790.1 125.0L1791.8 126.0L1793.6 127.1L1795.2 128.3L1796.8 129.7L1798.3 131.1L1799.8 132.5L1801.2 133.9L1802.4 135.3L1803.7 136.8L1804.9 138.4L1806.0 140.1L1807.1 141.8L1808.2 143.5L1809.2 145.2L1810.3 147.0L1811.3 148.8L1812.3 150.5L1813.3 152.3L1814.3 154.0L1815.2 155.8L1816.2 157.5L1817.1 159.3L1818.0 161.1L1819.0 162.9L1819.8 164.6L1820.7 166.5L1821.6 168.3L1822.5 170.1L1823.3 171.9L1824.2 173.7L1825.0 175.5L1825.9 177.3L1826.7 179.2L1827.5 181.0L1828.3 182.8L1829.2 184.6L1830.0 186.5L1830.8 188.3L1831.6 190.1L1832.4 192.0L1833.1 193.8L1833.9 195.7L1834.7 197.5L1835.4 199.4L1836.2 201.2L1836.9 203.1L1837.7 205.0L1838.4 206.8L1839.1 208.7L1839.8 210.6L1840.5 212.4L1841.2 214.3L1841.9 216.2L1842.6 218.1L1843.3 220.0L1843.9 221.9L1844.6 223.7L1845.3 225.6L1845.9 227.5L1846.6 229.4L1847.2 231.3L1847.9 233.2L1848.5 235.1L1849.2 237.0L1849.8 238.9L1850.5 240.8L1851.2 242.7L1851.8 244.6L1852.5 246.5L1853.1 248.3L1853.8 250.2L1854.4 252.1L1855.1 254.0L1855.7 255.9L1856.3 257.8L1856.9 259.8L1857.5 261.7L1858.1 263.6L1858.7 265.5L1859.3 267.4L1859.8 269.3L1860.4 271.2L1860.9 273.2L1861.5 275.1L1862.0 277.0L1862.5 279.0L1863.0 280.9L1863.5 282.8L1864.0 284.8L1864.5 286.7L1865.0 288.7L1865.5 290.6L1866.0 292.5L1866.5 294.5L1867.0 296.4L1867.5 298.4L1868.0 300.3L1868.4 302.3L1868.9 304.2L1869.3 306.2L1869.8 308.1L1870.2 310.1L1870.7 312.0L1871.1 314.0L1871.6 315.9L1872.0 317.9L1872.5 319.8L1872.9 321.8L1873.4 323.7L1873.8 325.7L1874.3 327.6L1874.8 329.6L1875.3 331.5L1875.8 333.4L1876.3 335.4L1876.9 337.3L1877.4 339.2L1877.9 341.2L1878.5 343.1L1879.0 345.0L1879.5 347.0L1880.0 348.9L1880.5 350.8L1881.0 352.8L1881.5 354.7L1882.0 356.7L1882.5 358.6L1882.9 360.6L1883.4 362.5L1883.8 364.5L1884.3 366.4L1884.8 368.4L1885.2 370.3L1885.7 372.3L1886.1 374.2L1886.6 376.2L1887.0 378.1L1887.5 380.1L1887.9 382.0L1888.4 384.0L1888.9 385.9L1889.4 387.8L1889.8 389.8L1890.3 391.7L1890.8 393.7L1891.2 395.6L1891.7 397.6L1892.2 399.5L1892.7 401.5L1893.1 403.4L1893.6 405.4L1894.1 407.3L1894.6 409.2L1895.1 411.2L1895.6 413.1L1896.1 415.1L1896.6 417.0L1897.1 418.9L1897.6 420.9L1898.1 422.8L1898.7 424.7L1899.2 426.7L1899.8 428.6L1900.3 430.5L1900.9 432.4L1901.4 434.4L1902.0 436.3L1902.6 438.2L1903.1 440.1L1903.7 442.1L1904.2 444.0L1904.8 445.9L1905.3 447.8L1905.9 449.7L1906.4 451.7L1907.0 453.6L1907.5 455.5L1908.1 457.4L1908.6 459.4L1909.2 461.3L1909.7 463.2L1910.3 465.2L1910.8 467.1L1911.4 469.0L1911.9 470.9L1912.5 472.9L1913.0 474.8L1913.6 476.7L1914.1 478.6L1914.7 480.6L1915.2 482.5L1915.8 484.4L1916.3 486.3L1916.9 488.3L1917.4 490.2L1917.9 492.1L1918.5 494.1L1919.0 496.0L1919.6 497.9L1920.1 499.8L1920.7 501.8L1921.3 503.7L1921.8 505.6L1922.4 507.5L1923.0 509.4L1923.5 511.4L1924.1 513.3L1924.7 515.2L1925.3 517.1L1925.9 519.0L1926.5 520.9L1927.1 522.8L1927.7 524.7L1928.3 526.7L1928.9 528.6L1929.5 530.5L1930.0 532.4L1930.6 534.3L1931.2 536.2L1931.8 538.2L1932.3 540.1L1932.9 542.0L1933.4 543.9L1934.0 545.8L1934.5 547.8L1935.1 549.7L1935.7 551.6L1936.2 553.5L1936.8 555.5L1937.3 557.4L1937.8 559.3L1938.4 561.3L1938.9 563.2L1939.4 565.1L1940.0 567.1L1940.6 569.0L1941.2 570.9L1941.8 572.8L1942.5 574.6L1943.2 576.5L1943.9 578.4L1944.6 580.3L1945.4 582.2L1946.1 584.0L1946.9 585.9L1947.7 587.7L1948.5 589.6L1949.4 591.4L1950.2 593.2L1951.1 595.0L1952.0 596.8L1952.9 598.5L1953.9 600.2L1954.9 601.9L1956.0 603.6L1957.1 605.3L1958.3 606.9L1959.4 608.6L1960.6 610.2L1961.8 611.9L1962.9 613.5L1964.0 615.2L1965.1 616.9L1966.2 618.6L1967.2 620.3L1968.2 622.0L1969.2 623.7L1970.2 625.5L1971.2 627.2L1972.2 629.0L1973.2 630.7L1974.3 632.4L1975.3 634.1L1976.4 635.8L1977.5 637.5L1978.6 639.1L1979.8 640.7L1981.0 642.3L1982.2 643.9L1983.4 645.5L1984.7 647.1L1985.9 648.7L1987.2 650.2L1988.5 651.8L1989.8 653.3L1991.1 654.8L1992.4 656.3L1993.7 657.8L1995.0 659.3L1996.4 660.8L1997.8 662.3L1999.1 663.7L2000.5 665.2L2001.9 666.6L2003.4 668.0L2004.8 669.4L2006.3 670.8L2007.7 672.2L2009.2 673.5L2010.7 674.9L2012.2 676.2L2013.7 677.5L2015.3 678.7L2017.0 679.9L2018.6 681.1L2020.2 682.3L2021.8 683.5L2023.4 684.8L2024.9 686.1L2026.3 687.4L2027.7 688.8L2029.0 690.3L2030.2 691.8L2031.4 693.4L2032.6 695.1L2033.7 696.7L2034.8 698.4L2035.9 700.1L2037.0 701.8L2038.1 703.5L2039.3 705.2L2040.4 706.8L2041.6 708.4L2042.8 710.1L2043.9 711.7L2045.1 713.3L2046.3 714.9L2047.5 716.6L2048.7 718.2L2049.8 719.8L2051.0 721.5L2052.1 723.1L2053.1 724.8L2054.2 726.5L2055.2 728.2L2056.2 730.0L2057.1 731.7L2058.0 733.5L2059.0 735.3L2059.9 737.1L2060.8 738.9L2061.6 740.7L2062.5 742.5L2063.4 744.3L2064.2 746.1L2065.1 747.9L2065.9 749.7L2066.8 751.6L2067.6 753.4L2068.5 755.2L2069.3 757.0L2070.2 758.8L2071.0 760.6L2071.8 762.5L2072.6 764.3L2073.5 766.1L2074.2 768.0L2075.0 769.8L2075.8 771.7L2076.5 773.5L2077.3 775.4L2078.0 777.2L2078.8 779.1L2079.5 781.0L2080.2 782.8L2080.9 784.7L2081.6 786.6L2082.3 788.5L2083.0 790.3L2083.7 792.2L2084.3 794.1L2085.0 796.0L2085.7 797.9L2086.4 799.8L2087.1 801.7L2087.8 803.6L2088.5 805.5L2089.2 807.3L2089.8 809.2L2090.5 811.2L2091.1 813.1L2091.7 815.0L2092.3 816.9L2092.8 818.8L2093.3 820.7L2093.8 822.7L2094.2 824.6L2094.5 826.6L2094.8 828.5L2095.1 830.5L2095.4 832.5L2095.7 834.5L2095.9 836.5L2096.2 838.4L2096.4 840.4L2096.6 842.4L2096.9 844.4L2097.1 846.4L2097.4 848.4L2097.6 850.4L2097.9 852.4L2098.2 854.4L2098.6 856.3L2098.9 858.3L2099.2 860.3L2099.6 862.3L2099.9 864.2L2100.3 866.2L2100.6 868.2L2101.0 870.2L2101.4 872.1L2101.7 874.1L2102.1 876.1L2102.4 878.0L2102.8 880.0L2103.2 882.0L2103.5 883.9L2103.8 885.9L2104.2 887.9L2104.5 889.9L2104.8 891.9L2105.1 893.8L2105.4 895.8L2105.7 897.8L2106.0 899.8L2106.4 901.7L2106.7 903.7L2107.0 905.7L2107.3 907.7L2107.5 909.7L2107.8 911.6L2108.1 913.6L2108.4 915.6L2108.7 917.6L2109.0 919.6L2109.3 921.6L2109.6 923.5L2109.8 925.5L2110.1 927.5L2110.4 929.5L2110.7 931.5L2111.0 933.5L2111.3 935.4L2111.6 937.4L2111.8 939.4L2112.1 941.4L2112.4 943.4L2112.6 945.4L2112.9 947.3L2113.1 949.3L2113.3 951.3L2113.5 953.3L2113.6 955.3L2113.8 957.3L2114.0 959.3L2114.1 961.3L2114.2 963.3L2114.4 965.3L2114.5 967.3L2114.6 969.3L2114.8 971.3L2114.9 973.3L2115.0 975.3L2115.1 977.3L2115.3 979.3L2115.4 981.3L2115.5 983.3L2115.6 985.3L2115.7 987.3L2115.9 989.3L2116.0 991.3L2116.1 993.3L2116.2 995.3L2116.3 997.3L2116.5 999.3L2116.6 1001.3L2116.7 1003.3L2116.8 1005.3L2117.0 1007.3L2117.1 1009.3L2117.3 1011.3L2117.5 1013.3L2117.6 1015.3L2117.8 1017.3L2118.0 1019.2L2118.2 1021.2L2118.3 1023.2L2118.5 1025.2L2118.7 1027.2L2118.9 1029.2L2119.1 1031.2L2119.3 1033.2L2119.5 1035.2L2119.8 1037.2L2120.0 1039.2L2120.2 1041.2L2120.5 1043.1L2120.7 1045.1L2121.0 1047.1L2121.2 1049.1L2121.4 1051.1L2121.7 1053.1L2121.9 1055.1L2122.2 1057.1L2122.4 1059.1L2122.6 1061.0L2122.9 1063.0L2123.1 1065.0L2123.4 1067.0L2123.6 1069.0L2123.8 1071.0L2124.1 1073.0L2124.3 1075.0L2124.6 1076.9L2124.8 1078.9L2125.1 1080.9L2125.3 1082.9L2125.5 1084.9L2125.8 1086.9L2126.0 1088.9L2126.2 1090.9L2126.5 1092.9L2126.7 1094.8L2126.9 1096.8L2127.1 1098.8L2127.3 1100.8L2127.5 1102.8L2127.7 1104.8L2127.9 1106.8L2128.1 1108.8L2128.3 1110.8L2128.5 1112.8L2128.7 1114.8L2128.9 1116.8L2129.1 1118.8L2129.3 1120.7L2129.5 1122.7L2129.7 1124.7L2129.9 1126.7L2130.1 1128.7L2130.3 1130.7L2130.5 1132.7L2130.7 1134.7L2131.0 1136.7L2131.2 1138.7L2131.4 1140.7L2131.7 1142.6L2131.9 1144.6L2132.2 1146.6L2132.4 1148.6L2132.7 1150.6L2132.9 1152.6L2133.2 1154.6L2133.5 1156.6L2133.7 1158.5L2134.0 1160.5L2134.3 1162.5L2134.6 1164.5L2134.9 1166.5L2135.2 1168.4L2135.6 1170.4L2135.9 1172.4L2136.2 1174.4L2136.7 1176.3L2137.1 1178.3L2137.6 1180.2L2138.1 1182.2L2138.6 1184.1L2139.0 1186.1L2139.5 1188.0L2139.9 1190.0L2140.2 1192.0L2140.5 1193.9L2140.6 1195.9L2140.8 1197.9L2141.0 1199.9L2141.1 1201.9L2141.2 1203.9L2141.4 1205.9L2141.5 1207.9L2141.6 1209.9L2141.7 1211.9L2141.8 1213.9L2141.9 1215.9L2142.0 1217.9L2142.2 1219.9L2142.3 1221.9L2142.5 1223.9L2142.6 1225.9L2142.8 1227.9L2143.0 1229.9L2143.2 1231.9L2143.4 1233.9L2143.6 1235.9L2143.8 1237.9L2144.1 1239.8L2144.4 1241.8L2144.7 1243.8L2145.1 1245.8L2145.5 1247.7L2145.9 1249.7L2146.4 1251.6L2146.9 1253.6L2147.4 1255.5L2147.9 1257.5L2148.5 1259.4L2149.1 1261.3L2149.7 1263.2L2150.4 1265.1L2151.1 1266.9L2151.9 1268.8L2152.6 1270.7L2153.4 1272.7L2154.2 1275.0L2155.1 1276.2L2155.9 1275.1L2156.8 1272.8L2157.5 1270.7L2158.1 1268.8L2158.6 1266.9L2159.2 1265.0L2159.7 1263.0L2160.2 1261.1L2160.8 1259.2L2161.4 1257.3L2162.0 1255.4L2162.7 1253.5L2163.3 1251.6L2163.9 1249.6L2164.5 1247.7L2165.1 1245.8L2165.6 1243.9L2166.0 1241.9L2166.4 1240.0L2166.7 1238.0L2167.0 1236.0L2167.3 1234.1L2167.6 1232.1L2167.9 1230.1L2168.1 1228.1L2168.4 1226.1L2168.6 1224.1L2168.8 1222.1L2168.9 1220.1L2169.1 1218.1L2169.2 1216.1L2169.4 1214.1L2169.5 1212.1L2169.6 1210.1L2169.7 1208.1L2169.8 1206.1L2169.9 1204.1L2170.0 1202.1L2170.2 1200.1L2170.3 1198.1L2170.5 1196.1L2170.6 1194.1L2170.8 1192.1L2171.0 1190.2L2171.3 1188.2L2171.5 1186.2L2171.8 1184.2L2172.0 1182.2L2172.3 1180.2L2172.6 1178.2L2172.9 1176.3L2173.2 1174.3L2173.5 1172.3L2173.7 1170.3L2174.0 1168.3L2174.3 1166.3L2174.6 1164.4L2174.8 1162.4L2175.1 1160.4L2175.4 1158.4L2175.7 1156.4L2175.9 1154.4L2176.2 1152.5L2176.5 1150.5L2176.7 1148.5L2177.0 1146.5L2177.3 1144.5L2177.5 1142.5L2177.8 1140.5L2178.0 1138.6L2178.3 1136.6L2178.5 1134.6L2178.7 1132.6L2178.9 1130.6L2179.2 1128.6L2179.4 1126.6L2179.6 1124.6L2179.8 1122.6L2180.0 1120.6L2180.3 1118.7L2180.5 1116.7L2180.7 1114.7L2181.0 1112.7L2181.2 1110.7L2181.4 1108.7L2181.7 1106.7L2181.9 1104.7L2182.2 1102.7L2182.4 1100.8L2182.7 1098.8L2182.9 1096.8L2183.2 1094.8L2183.4 1092.8L2183.6 1090.8L2183.9 1088.8L2184.1 1086.8L2184.3 1084.8L2184.5 1082.9L2184.7 1080.9L2184.9 1078.9L2185.1 1076.9L2185.3 1074.9L2185.5 1072.9L2185.7 1070.9L2185.9 1068.9L2186.1 1066.9L2186.3 1064.9L2186.4 1062.9L2186.6 1060.9L2186.8 1058.9L2187.0 1056.9L2187.3 1055.0L2187.5 1053.0L2187.7 1051.0L2187.9 1049.0L2188.1 1047.0L2188.3 1045.0L2188.6 1043.0L2188.8 1041.0L2189.0 1039.0L2189.2 1037.0L2189.5 1035.1L2189.7 1033.1L2189.9 1031.1L2190.1 1029.1L2190.3 1027.1L2190.5 1025.1L2190.7 1023.1L2190.9 1021.1L2191.1 1019.1L2191.3 1017.1L2191.5 1015.1L2191.7 1013.1L2191.9 1011.1L2192.1 1009.2L2192.3 1007.2L2192.6 1005.2L2192.8 1003.2L2193.1 1001.2L2193.4 999.2L2193.7 997.2L2194.0 995.3L2194.4 993.3L2194.7 991.3L2195.0 989.3L2195.3 987.3L2195.6 985.4L2195.9 983.4L2196.2 981.4L2196.5 979.4L2196.7 977.4L2197.0 975.4L2197.2 973.5L2197.4 971.5L2197.5 969.5L2197.6 967.5L2197.8 965.5L2197.9 963.5L2198.0 961.5L2198.1 959.5L2198.2 957.5L2198.3 955.5L2198.4 953.5L2198.5 951.5L2198.6 949.5L2198.7 947.5L2198.8 945.5L2198.9 943.5L2199.0 941.5L2199.0 939.5L2199.1 937.5L2199.2 935.5L2199.3 933.5L2199.5 931.5L2199.5 929.5L2199.6 927.5L2199.7 925.5L2199.8 923.5L2199.9 921.5L2200.0 919.5L2200.1 917.5L2200.2 915.5L2200.3 913.5L2200.4 911.5L2200.5 909.5L2200.7 907.5L2200.8 905.5L2200.9 903.5L2201.1 901.5L2201.3 899.5L2201.5 897.5L2201.8 895.5L2202.1 893.5L2202.4 891.6L2202.7 889.6L2203.0 887.6L2203.4 885.6L2203.8 883.7L2204.1 881.7L2204.5 879.7L2204.8 877.7L2205.2 875.8L2205.5 873.8L2205.8 871.8L2206.1 869.8L2206.4 867.8L2206.7 865.9L2206.9 863.9L2207.2 861.9L2207.5 859.9L2207.8 857.9L2208.1 856.0L2208.4 854.0L2208.7 852.0L2208.9 850.0L2209.2 848.0L2209.4 846.0L2209.7 844.0L2209.9 842.1L2210.1 840.1L2210.3 838.1L2210.5 836.1L2210.7 834.1L2210.9 832.1L2211.1 830.1L2211.2 828.1L2211.4 826.1L2211.5 824.1L2211.7 822.1L2211.8 820.1L2212.0 818.1L2212.1 816.1L2212.3 814.1L2212.5 812.1L2212.6 810.1L2212.8 808.1L2213.0 806.1L2213.2 804.2L2213.5 802.2L2213.7 800.2L2214.0 798.2L2214.2 796.2L2214.5 794.2L2214.7 792.2L2215.0 790.2L2215.3 788.3L2215.5 786.3L2215.8 784.3L2216.1 782.3L2216.4 780.3L2216.6 778.3L2216.9 776.4L2217.2 774.4L2217.4 772.4L2217.7 770.4L2218.0 768.4L2218.2 766.4L2218.5 764.4L2218.7 762.5L2219.0 760.5L2219.2 758.5L2219.5 756.5L2219.7 754.5L2220.0 752.5L2220.2 750.5L2220.5 748.5L2220.7 746.6L2221.0 744.6L2221.3 742.6L2221.5 740.6L2221.8 738.6L2222.1 736.6L2222.4 734.7L2222.7 732.7L2223.0 730.7L2223.2 728.7L2223.5 726.7L2223.8 724.8L2224.1 722.8L2224.5 720.8L2224.8 718.8L2225.1 716.8L2225.4 714.9L2225.7 712.9L2226.1 710.9L2226.4 708.9L2226.7 707.0L2227.1 705.0L2227.4 703.0L2227.8 701.0L2228.2 699.1L2228.5 697.1L2228.9 695.1L2229.3 693.2L2229.7 691.2L2230.2 689.3L2230.6 687.3L2231.1 685.4L2231.5 683.4L2232.0 681.5L2232.5 679.5L2233.0 677.6L2233.5 675.6L2233.9 673.7L2234.4 671.8L2234.9 669.8L2235.4 667.9L2235.8 665.9L2236.3 664.0L2236.7 662.0L2237.2 660.1L2237.6 658.1L2238.0 656.1L2238.4 654.2L2238.7 652.2L2239.1 650.2L2239.4 648.2L2239.8 646.2L2240.2 644.3L2240.5 642.3L2240.9 640.3L2241.3 638.4L2241.7 636.4L2242.1 634.5L2242.6 632.5L2243.1 630.6L2243.6 628.7L2244.1 626.8L2244.7 624.9L2245.4 623.0L2246.1 621.1L2246.8 619.3L2247.6 617.4L2248.4 615.6L2249.2 613.7L2250.0 611.9L2250.8 610.0L2251.6 608.2L2252.4 606.3L2253.2 604.5L2254.0 602.6L2254.7 600.8L2255.4 598.9L2256.1 597.0L2256.8 595.1L2257.5 593.3L2258.2 591.4L2258.9 589.5L2259.5 587.6L2260.2 585.7L2260.9 583.8L2261.6 581.9L2262.3 580.0L2263.0 578.2L2263.7 576.3L2264.4 574.4L2265.1 572.6L2265.9 570.7L2266.7 568.9L2267.5 567.1L2268.3 565.3L2269.2 563.4L2270.0 561.6L2270.9 559.8L2271.8 558.0L2272.7 556.2L2273.6 554.4L2274.6 552.7L2275.5 550.9L2276.5 549.2L2277.5 547.4L2278.5 545.7L2279.6 544.0L2280.6 542.2L2281.7 540.5L2282.8 538.8L2283.9 537.1L2285.1 535.5L2286.2 533.9L2287.5 532.4L2288.8 530.9L2290.1 529.5L2291.5 528.0L2293.0 526.6L2294.5 525.3L2296.0 523.9L2297.5 522.6L2299.1 521.4L2300.7 520.1L2302.4 519.0L2304.0 517.8L2305.6 516.8L2307.3 515.7L2309.0 514.6L2310.8 513.6L2312.6 512.6L2314.4 511.7L2316.2 510.8L2318.0 510.0L2319.9 509.3L2321.7 508.6L2323.6 508.0L2325.5 507.5L2327.4 506.9L2329.4 506.4L2331.3 505.9L2333.3 505.4L2335.3 505.0L2337.3 504.6L2339.2 504.2L2341.2 503.8L2343.2 503.5L2345.1 503.2L2347.1 502.9L2349.1 502.6L2351.1 502.4L2353.1 502.1L2355.1 501.9L2357.0 501.6L2359.0 501.4L2361.0 501.2L2363.0 501.0L2365.0 500.8L2367.0 500.6L2369.0 500.4L2371.0 500.2L2373.0 500.0L2375.0 499.8L2377.0 499.7L2379.0 499.5L2381.0 499.3L2383.0 499.2L2385.0 499.0L2387.0 498.8L2389.0 498.7L2391.0 498.6L2393.0 498.5L2395.0 498.4L2397.0 498.3L2399.0 498.2L2401.0 498.1L2403.0 498.0L2405.0 497.9L2407.0 497.8L2409.0 497.7L2411.0 497.6L2413.0 497.6L2415.0 497.5L2417.0 497.4L2419.0 497.4L2421.0 497.3L2423.0 497.3L2425.0 497.3L2427.0 497.2L2429.0 497.2" fill="none" stroke="#ff0000" stroke-width="6.4" stroke-linejoin="round" stroke-linecap="butt"/>
</g>
<rect x="1260.4" y="36.0" width="1165.7999999999997" height="1270.4" fill="none" stroke="#000" stroke-width="5.8"/>
<g stroke="#000" stroke-width="5.2"><line x1="1352.0" y1="1306.4" x2="1352.0" y2="1280.0"/><line x1="1589.6" y1="1306.4" x2="1589.6" y2="1280.0"/><line x1="1827.2" y1="1306.4" x2="1827.2" y2="1280.0"/><line x1="2064.8" y1="1306.4" x2="2064.8" y2="1280.0"/><line x1="2302.4" y1="1306.4" x2="2302.4" y2="1280.0"/><line x1="1470.8" y1="1306.4" x2="1470.8" y2="1293.7"/><line x1="1708.4" y1="1306.4" x2="1708.4" y2="1293.7"/><line x1="1946.0" y1="1306.4" x2="1946.0" y2="1293.7"/><line x1="2183.6" y1="1306.4" x2="2183.6" y2="1293.7"/><line x1="2421.2" y1="1306.4" x2="2421.2" y2="1293.7"/></g>
<g font-size="76.0" fill="#000"><text transform="translate(1352.0 1391.8) scale(0.97 1)" text-anchor="middle">10.4</text><text transform="translate(1589.6 1391.8) scale(0.97 1)" text-anchor="middle">10.8</text><text transform="translate(1827.2 1391.8) scale(0.97 1)" text-anchor="middle">11.2</text><text transform="translate(2064.8 1391.8) scale(0.97 1)" text-anchor="middle">11.6</text><text transform="translate(2302.4 1391.8) scale(0.97 1)" text-anchor="middle">12.0</text></g>
<text transform="translate(81.2 135.2) scale(0.957 1)" font-size="70.5" font-weight="bold" fill="#000">88 K</text>
<text transform="translate(1322.9 130.7) scale(0.938 1)" font-size="70.5" font-weight="bold" fill="#000">260 K</text>
<text transform="translate(948.3 140.2) scale(0.945 1)" font-size="70.5" font-weight="bold" fill="#00ff00">F</text>
<text transform="translate(746.5 478.5) scale(0.945 1)" font-size="70.5" font-weight="bold" fill="#0000ff">E</text>
<text transform="translate(1660.2 331.1) scale(0.945 1)" font-size="70.5" font-weight="bold" fill="#0000ff">E</text>
<text transform="translate(2112.7 367.8) scale(0.945 1)" font-size="70.5" font-weight="bold" fill="#00ff00">F</text>
<text transform="translate(346.2 1157.5) scale(0.95 1)" font-size="64.5" font-weight="normal" fill="#ff0000">D=0.95F+0.05E</text>
<text transform="translate(1577.5 1161.2) scale(0.95 1)" font-size="64.5" font-weight="normal" fill="#ff0000">D=0.23F+0.77E</text>
<text transform="translate(991.8 1526.9) scale(0.965 1)" font-size="84.0" font-weight="normal" fill="#000">Magnetic field (kG)</text>
</svg>
</body></html>
